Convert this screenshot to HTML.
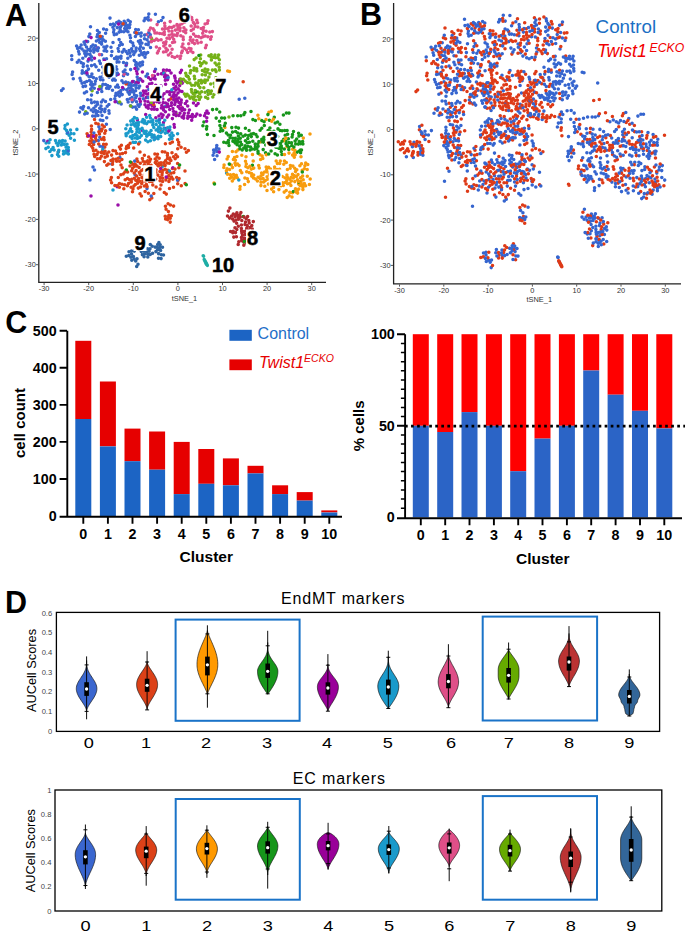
<!DOCTYPE html><html><head><meta charset="utf-8"><style>html,body{margin:0;padding:0;background:#fff;width:685px;height:932px;overflow:hidden}svg{display:block;font-family:"Liberation Sans",sans-serif}</style></head><body><svg width="685" height="932" viewBox="0 0 685 932" font-family="Liberation Sans, sans-serif"><g font-size="7.4" fill="#333"><path d="M38.8 3.0V282.3H326.0" stroke="#222" stroke-width="1.3" fill="none"/><text x="44.1" y="291.3" text-anchor="middle">-30</text><text x="88.7" y="291.3" text-anchor="middle">-20</text><text x="133.3" y="291.3" text-anchor="middle">-10</text><text x="177.9" y="291.3" text-anchor="middle">0</text><text x="222.5" y="291.3" text-anchor="middle">10</text><text x="267.1" y="291.3" text-anchor="middle">20</text><text x="311.7" y="291.3" text-anchor="middle">30</text><text x="35.8" y="267.3" text-anchor="end">-30</text><text x="35.8" y="222.0" text-anchor="end">-20</text><text x="35.8" y="176.7" text-anchor="end">-10</text><text x="35.8" y="131.4" text-anchor="end">0</text><text x="35.8" y="86.1" text-anchor="end">10</text><text x="35.8" y="40.8" text-anchor="end">20</text><path d="M44.1 282.9v2.2M88.7 282.9v2.2M133.3 282.9v2.2M177.9 282.9v2.2M222.5 282.9v2.2M267.1 282.9v2.2M311.7 282.9v2.2M38.2 264.7h-2.2M38.2 219.4h-2.2M38.2 174.1h-2.2M38.2 128.8h-2.2M38.2 83.5h-2.2M38.2 38.2h-2.2" stroke="#444" stroke-width="0.9"/><text x="184.4" y="300.8" text-anchor="middle">tSNE_1</text><text transform="translate(17.8 142.5) rotate(-90)" text-anchor="middle">tSNE_2</text></g><g font-size="7.4" fill="#333"><path d="M393.6 3.0V283.8H681.0" stroke="#222" stroke-width="1.3" fill="none"/><text x="399.5" y="292.8" text-anchor="middle">-30</text><text x="443.8" y="292.8" text-anchor="middle">-20</text><text x="488.1" y="292.8" text-anchor="middle">-10</text><text x="532.4" y="292.8" text-anchor="middle">0</text><text x="576.7" y="292.8" text-anchor="middle">10</text><text x="621.0" y="292.8" text-anchor="middle">20</text><text x="665.3" y="292.8" text-anchor="middle">30</text><text x="390.6" y="268.0" text-anchor="end">-30</text><text x="390.6" y="222.7" text-anchor="end">-20</text><text x="390.6" y="177.4" text-anchor="end">-10</text><text x="390.6" y="132.1" text-anchor="end">0</text><text x="390.6" y="86.8" text-anchor="end">10</text><text x="390.6" y="41.5" text-anchor="end">20</text><path d="M399.5 284.4v2.2M443.8 284.4v2.2M488.1 284.4v2.2M532.4 284.4v2.2M576.7 284.4v2.2M621.0 284.4v2.2M665.3 284.4v2.2M393.0 265.4h-2.2M393.0 220.1h-2.2M393.0 174.8h-2.2M393.0 129.5h-2.2M393.0 84.2h-2.2M393.0 38.9h-2.2" stroke="#444" stroke-width="0.9"/><text x="539.3" y="302.3" text-anchor="middle">tSNE_1</text><text transform="translate(372.6 142.5) rotate(-90)" text-anchor="middle">tSNE_2</text></g><g stroke-linecap="round" stroke-width="3.55" fill="none"><path d="M121.2 103.9h0M117.3 27.6h0M142.7 54.7h0M155.2 138.6h0M107.1 63.6h0M71.7 55.8h0M93.0 44.9h0M114.8 73.8h0M125.3 25.5h0M126.0 51.4h0M134.8 32.5h0M100.0 146.2h0M106.7 117.8h0M103.0 84.3h0M78.6 51.5h0M124.0 49.6h0M99.8 137.3h0M133.9 99.9h0M110.0 18.1h0M135.6 90.7h0M132.6 107.1h0M95.8 106.1h0M115.3 80.2h0M106.7 51.2h0M98.0 115.4h0M177.7 180.1h0M116.1 101.4h0M113.2 75.2h0M111.8 164.0h0M105.1 109.0h0M102.9 79.9h0M108.9 104.4h0M79.0 60.2h0M106.6 29.7h0M121.9 25.1h0M103.3 40.0h0M118.4 102.7h0M148.1 17.3h0M107.6 85.6h0M115.4 95.8h0M119.9 157.6h0M123.5 75.7h0M144.5 38.7h0M161.3 20.5h0M136.0 50.6h0M213.6 150.0h0M137.2 76.9h0M136.7 34.0h0M239.2 99.2h0M124.7 28.4h0M104.7 62.5h0M97.0 36.7h0M137.9 104.7h0M141.2 32.9h0M96.3 78.8h0M150.5 47.5h0M140.1 65.9h0M85.6 86.1h0M105.1 74.6h0M84.8 53.6h0M120.5 26.9h0M167.0 78.4h0M83.1 86.6h0M89.1 76.7h0M129.4 94.2h0M99.9 129.2h0M87.7 41.6h0M91.1 76.5h0M138.4 29.8h0M84.5 72.8h0M86.6 91.7h0M130.3 56.1h0M88.9 36.6h0M91.5 65.6h0M123.5 62.5h0M96.1 66.8h0M140.6 46.5h0M130.6 41.6h0M147.0 188.6h0M87.2 74.8h0M126.1 30.6h0M122.3 52.1h0M80.8 80.8h0M116.6 62.1h0M93.0 167.0h0M145.0 57.2h0M139.6 85.9h0M126.0 65.7h0M144.1 20.8h0M91.3 82.0h0M140.9 95.7h0M123.5 89.1h0M124.2 21.3h0M128.3 82.8h0M139.5 48.8h0M145.1 18.3h0M148.8 14.1h0M108.4 72.1h0M136.5 66.9h0M91.2 110.0h0M99.7 42.4h0M73.3 78.8h0M138.1 64.0h0M98.4 140.5h0M125.5 73.2h0M144.3 52.5h0" stroke="#3a66cf"/><path d="M128.5 183.4h0M131.3 181.9h0M137.1 82.0h0M120.8 174.7h0M169.0 215.2h0M181.1 147.3h0M132.6 168.2h0M143.1 161.2h0M146.4 184.5h0M175.9 154.8h0M153.2 179.4h0M103.8 137.5h0M141.9 177.5h0M165.2 169.2h0M151.8 198.0h0M178.8 144.8h0M152.1 181.6h0M154.9 153.9h0M119.5 91.9h0M156.1 187.0h0M159.1 163.2h0M149.5 181.5h0M140.1 174.5h0M102.1 129.1h0M114.9 185.4h0M158.0 165.6h0M135.2 164.2h0M177.6 163.5h0M101.4 156.2h0M164.9 152.0h0M172.5 168.5h0M172.9 179.1h0M131.7 170.8h0M173.5 187.2h0M172.4 141.9h0M104.8 147.1h0M169.8 158.1h0M127.4 178.4h0M141.4 195.9h0M137.0 166.1h0M168.0 170.2h0M162.2 172.8h0M125.2 179.7h0M152.5 88.5h0M111.4 177.5h0M150.5 159.2h0M171.2 173.3h0M121.4 145.3h0M140.0 193.7h0M163.8 162.7h0M120.5 149.1h0M135.4 184.4h0M101.6 139.2h0M136.9 158.9h0M156.0 169.7h0M102.4 150.9h0M165.2 216.3h0M58.4 151.7h0M122.5 153.4h0M125.5 152.6h0M122.2 167.7h0M108.8 152.0h0M111.6 182.8h0M116.7 161.2h0M95.9 140.8h0M134.2 166.4h0M176.7 177.4h0M87.6 136.3h0M101.4 131.0h0M121.9 159.5h0M140.5 186.9h0M96.0 150.2h0M161.2 131.6h0M156.7 164.4h0M141.7 183.5h0" stroke="#dc4118"/><path d="M273.6 187.4h0M234.5 157.5h0M244.9 178.0h0M290.4 165.5h0M279.7 163.5h0M294.8 181.6h0M278.9 189.6h0M246.0 156.8h0M239.1 165.6h0M292.6 155.1h0M244.6 184.4h0M233.9 178.8h0M224.9 127.5h0M292.7 149.2h0M236.9 156.5h0M292.4 192.7h0M246.7 171.8h0M235.6 165.1h0M287.4 169.4h0M289.8 183.2h0M290.9 185.5h0M297.6 193.1h0M262.8 158.4h0M301.5 163.7h0M292.9 166.1h0M240.4 170.6h0M267.5 179.3h0M267.1 176.8h0M286.2 190.4h0M214.0 183.0h0M289.8 192.2h0M258.7 165.5h0M300.5 177.7h0M260.5 179.0h0M258.1 177.2h0M257.4 180.9h0M286.9 174.9h0M304.4 183.6h0M274.4 169.7h0M263.1 178.6h0M253.2 160.9h0" stroke="#f89c0e"/><path d="M216.7 109.3h0M214.5 184.0h0M250.5 146.9h0M288.8 149.4h0M233.1 115.7h0M293.5 131.4h0M230.1 137.8h0M258.1 146.2h0M203.9 121.9h0M288.3 138.8h0M285.9 141.2h0M297.2 152.1h0M300.0 184.5h0M277.9 146.1h0M235.6 131.4h0M285.2 135.2h0M299.5 150.9h0M247.2 142.7h0M207.4 134.5h0M243.3 216.5h0M299.3 141.4h0M281.3 151.5h0M277.7 136.6h0M287.6 134.3h0M247.3 231.5h0M274.3 117.3h0M243.9 114.6h0M232.9 141.3h0M284.7 130.5h0M275.1 153.7h0M241.7 144.6h0M284.3 149.0h0M245.4 140.8h0M281.9 154.4h0M242.2 150.0h0M255.4 120.5h0M238.1 139.6h0M237.7 115.7h0M235.2 143.0h0M268.1 138.0h0M286.1 143.8h0M275.3 142.8h0M283.7 139.3h0M287.1 130.5h0M219.9 125.4h0M292.5 134.4h0M207.8 91.1h0M264.3 125.5h0M272.7 141.6h0M265.6 152.7h0M249.4 142.3h0M302.6 141.4h0M237.8 142.2h0" stroke="#17961b"/><path d="M184.7 109.8h0M164.6 128.3h0M165.6 103.0h0M130.1 90.9h0M150.6 104.0h0M163.6 109.9h0M126.4 64.3h0M122.5 87.5h0M155.9 92.7h0M176.2 95.5h0M146.4 107.0h0M97.8 48.1h0M163.5 70.0h0M181.7 80.6h0M198.1 103.6h0M182.3 83.1h0M169.7 109.5h0M149.2 93.4h0M161.4 73.8h0M146.2 97.4h0M179.8 79.2h0M171.1 73.0h0M91.1 37.6h0M152.0 105.6h0M171.9 97.0h0M163.9 73.7h0M178.9 81.6h0M94.5 58.2h0M171.7 91.4h0M117.2 186.8h0M180.5 105.3h0M147.3 86.7h0M191.7 120.3h0M155.7 85.2h0M178.9 97.9h0M167.6 79.6h0M181.9 110.4h0M142.4 72.0h0M183.7 115.5h0M142.5 130.4h0M142.7 81.2h0M136.6 71.2h0M173.7 95.0h0M166.8 70.1h0M178.0 93.0h0M155.8 117.7h0M208.3 113.2h0M152.8 88.0h0M150.6 101.7h0M137.2 73.7h0" stroke="#9a0ea8"/><path d="M58.8 156.2h0M130.6 128.8h0M146.7 123.6h0M131.9 131.6h0M63.5 153.9h0M132.8 135.6h0M160.6 125.0h0M132.8 119.6h0M53.1 147.5h0M135.2 126.0h0M71.0 133.6h0M165.4 106.4h0M169.9 135.3h0M166.0 129.9h0M156.1 130.0h0M169.9 127.1h0M159.0 120.0h0M67.2 133.4h0M151.3 134.6h0M66.1 147.2h0M167.4 132.5h0M177.6 133.8h0M162.6 131.3h0M127.9 133.0h0M142.1 128.4h0M57.9 145.5h0M46.1 143.0h0M226.6 173.0h0M68.3 147.5h0M154.1 139.8h0M149.5 132.7h0M67.0 144.3h0M141.9 121.8h0M144.1 122.9h0M135.2 134.4h0M171.2 137.1h0M136.9 129.3h0M158.1 138.8h0M147.9 141.7h0M136.9 131.9h0M155.3 137.4h0M169.5 139.2h0M137.4 138.4h0" stroke="#1a9acb"/><path d="M164.4 34.5h0M168.9 30.9h0M191.0 48.7h0M172.3 37.0h0M150.7 19.9h0M164.6 23.2h0M146.7 34.4h0M167.0 38.2h0M107.4 74.4h0M205.5 47.7h0M180.1 28.1h0M163.8 46.0h0M169.1 35.2h0M205.2 35.9h0M212.4 31.6h0M182.3 50.9h0M166.0 41.7h0M190.5 37.2h0M124.1 74.2h0M181.4 18.9h0M191.6 17.5h0M189.4 15.7h0M151.5 41.2h0M172.1 49.2h0M194.5 43.6h0M172.0 33.9h0M164.6 72.3h0M154.3 40.4h0M172.5 42.5h0M202.9 36.8h0M181.5 107.5h0" stroke="#df4f88"/><path d="M197.8 83.2h0M200.7 97.1h0M207.0 72.3h0M187.1 94.3h0M219.4 80.0h0M85.7 111.7h0M193.1 93.5h0M200.7 55.0h0M194.6 85.2h0M219.2 67.3h0M176.2 113.9h0M199.3 99.5h0M201.1 80.3h0M219.0 63.8h0M205.6 97.2h0M215.8 77.8h0M215.0 55.1h0M210.0 73.7h0M215.5 57.7h0M201.5 82.9h0M210.6 93.5h0M200.6 65.7h0M213.1 57.2h0M202.2 74.7h0M215.2 69.7h0M151.6 38.5h0M195.7 100.3h0M185.2 81.1h0M208.6 90.7h0M190.2 72.9h0" stroke="#74b117"/><path d="M230.6 231.4h0M243.9 231.4h0M229.9 208.1h0M244.0 238.2h0M241.5 240.6h0M236.5 214.7h0M246.5 240.0h0M243.8 245.3h0M239.8 214.8h0M241.4 225.0h0M232.6 219.0h0M253.3 221.6h0M238.2 216.9h0M249.9 233.3h0M243.7 242.0h0M236.8 229.5h0M245.3 234.5h0M235.5 232.6h0M244.1 217.1h0M245.5 221.9h0M241.9 233.1h0" stroke="#b0292e"/><path d="M158.8 248.6h0M155.1 247.1h0M147.8 254.3h0M158.5 253.6h0M157.7 244.5h0M161.1 258.6h0M144.5 254.0h0M141.9 248.4h0M147.5 248.7h0M150.0 248.7h0M159.9 247.4h0M157.2 247.2h0M126.3 256.2h0M161.3 254.7h0M128.8 255.5h0M160.6 250.4h0" stroke="#2e64a0"/><path d="M206.3 263.5h0M203.6 256.3h0M205.2 261.5h0M203.2 255.8h0M205.6 262.2h0" stroke="#1fada5"/><path d="M128.1 102.0h0M90.0 48.9h0M120.9 90.6h0M97.4 30.5h0M148.8 36.8h0M130.6 69.6h0M99.3 32.4h0M119.2 32.1h0M95.4 81.2h0M218.9 148.9h0M81.2 45.0h0M83.2 66.6h0M135.4 36.4h0M84.6 82.6h0M130.1 98.7h0M126.6 63.2h0M97.2 102.2h0M148.8 89.5h0M104.1 50.8h0M116.4 75.1h0M116.7 22.6h0M87.3 65.9h0M143.3 98.8h0M103.0 73.1h0M100.4 79.6h0M165.6 77.5h0M106.6 88.2h0M95.3 116.1h0M116.5 56.9h0M102.0 115.4h0M110.7 75.8h0M140.4 104.2h0M99.6 37.2h0M114.6 25.3h0M100.8 111.9h0M118.4 87.3h0M120.6 22.5h0M102.2 36.8h0M132.1 97.5h0M101.6 44.1h0M103.6 29.0h0M94.9 83.9h0M97.6 104.2h0M114.5 58.4h0M92.9 84.6h0M88.5 107.7h0M125.6 22.9h0M91.3 46.6h0M132.5 51.2h0M101.6 54.7h0M100.3 38.4h0M134.7 161.1h0M95.6 110.6h0M214.6 159.4h0M135.7 29.4h0M112.5 90.3h0M120.7 42.4h0M102.9 120.4h0M76.6 46.0h0M106.4 124.3h0M84.0 50.9h0M77.6 48.4h0M105.5 101.5h0M132.7 43.1h0M140.3 50.7h0M105.5 48.4h0M147.0 39.7h0M89.7 58.3h0M130.4 105.8h0M111.0 47.2h0M140.1 62.8h0M86.6 51.1h0M136.1 62.5h0M71.8 59.5h0M72.1 74.5h0M121.3 31.5h0M87.6 99.7h0M117.5 84.9h0M91.7 60.0h0M100.3 119.9h0M135.1 174.7h0M139.0 106.5h0M121.9 80.7h0M82.3 70.7h0M136.1 87.8h0M104.7 111.6h0M88.2 49.8h0M113.9 29.8h0M135.7 97.7h0M138.0 69.0h0M138.6 33.4h0M79.8 47.6h0M111.4 55.6h0M89.8 34.0h0M114.8 98.8h0M156.0 97.6h0M117.3 59.3h0M105.4 41.3h0M134.3 60.6h0M86.5 47.0h0M123.4 82.8h0M119.5 45.4h0M128.7 84.9h0M131.1 83.3h0M141.0 36.1h0M135.7 64.7h0M106.2 68.3h0M146.0 44.2h0M91.5 95.1h0M127.6 74.2h0M112.9 27.3h0M148.9 42.3h0M150.3 34.7h0M112.6 80.1h0M97.6 34.4h0" stroke="#3a66cf"/><path d="M126.1 84.0h0M178.7 142.2h0M172.0 152.7h0M91.2 137.8h0M153.3 170.3h0M160.0 189.0h0M87.1 133.8h0M170.7 99.0h0M91.4 135.2h0M147.1 186.6h0M128.4 145.2h0M95.8 123.2h0M97.4 158.8h0M185.1 183.6h0M177.6 139.8h0M149.8 199.8h0M94.5 119.5h0M155.7 179.0h0M124.6 184.8h0M131.1 187.2h0M158.4 165.8h0M121.0 164.9h0M177.7 183.7h0M149.6 161.5h0M165.4 143.7h0M98.9 131.8h0M145.0 168.7h0M162.0 175.1h0M129.6 179.7h0M142.8 181.1h0M118.2 158.3h0M143.1 169.4h0M155.9 172.3h0M178.1 180.3h0M165.6 218.9h0M144.3 164.7h0M132.5 191.8h0M115.8 159.3h0M92.3 140.4h0M116.7 153.4h0M144.3 185.9h0M106.2 144.2h0M169.8 159.5h0M89.8 140.9h0M104.8 133.3h0M157.0 157.0h0M185.0 171.0h0M243.2 81.7h0M89.3 144.4h0M91.4 126.0h0M106.8 165.3h0M92.1 142.4h0M173.6 206.1h0M170.4 204.9h0M112.8 161.6h0M94.1 154.3h0M128.5 147.5h0M93.6 144.5h0M168.8 175.6h0M169.3 163.2h0M118.3 177.4h0M96.1 135.5h0M112.5 164.2h0M161.0 184.9h0M127.6 172.0h0M140.3 163.3h0M144.2 175.0h0M186.4 152.3h0M134.4 178.2h0M137.0 180.4h0M91.2 132.1h0M138.6 178.4h0" stroke="#dc4118"/><path d="M294.2 152.8h0M240.1 186.6h0M231.5 177.1h0M237.9 150.0h0M285.7 138.3h0M278.7 177.1h0M269.4 174.4h0M303.3 138.1h0M287.5 183.7h0M266.2 166.9h0M239.9 189.2h0M268.6 167.2h0M294.9 150.3h0M286.9 146.7h0M260.6 159.5h0M234.9 177.0h0M266.7 169.8h0M249.2 172.6h0M232.3 180.9h0M292.5 174.2h0M267.7 144.6h0M276.2 161.0h0M229.6 169.4h0M298.0 174.6h0M298.6 184.1h0M265.3 180.6h0M263.6 181.9h0M294.5 175.7h0M307.3 176.3h0M284.2 192.1h0M290.2 168.2h0M227.5 174.3h0M253.5 178.0h0M246.3 163.9h0M275.1 172.3h0M266.3 154.7h0M245.9 166.5h0M300.9 180.9h0M283.8 164.2h0M305.6 185.8h0M289.7 179.1h0M253.6 175.0h0M291.2 177.2h0M302.6 176.1h0M285.9 137.9h0M277.1 169.6h0M245.5 161.2h0M274.6 167.1h0M264.8 186.3h0M237.3 177.7h0M296.8 169.7h0M231.3 164.9h0M227.1 159.0h0M298.7 188.9h0" stroke="#f89c0e"/><path d="M261.3 141.8h0M301.3 135.3h0M298.3 144.1h0M263.4 142.1h0M280.0 130.4h0M270.2 139.6h0M237.1 144.8h0M277.6 122.0h0M293.9 147.1h0M271.1 150.9h0M300.6 152.7h0M245.4 128.2h0M226.4 133.1h0M274.6 139.9h0M219.5 121.2h0M286.4 113.0h0M263.9 139.6h0M278.0 128.9h0M300.5 143.7h0M268.3 133.6h0M248.0 146.3h0M228.4 142.8h0M298.9 182.2h0M256.8 148.5h0M258.0 151.2h0M126.3 169.9h0M267.4 140.1h0M279.4 148.0h0M263.2 149.6h0M251.3 136.6h0M228.4 140.5h0M250.1 149.9h0M281.3 146.0h0M244.9 112.5h0M257.2 136.8h0M244.4 241.6h0M271.9 133.2h0M269.4 135.9h0M221.7 118.0h0M252.8 141.2h0M187.5 76.2h0" stroke="#17961b"/><path d="M91.0 196.0h0M155.2 79.0h0M167.2 117.1h0M138.3 82.6h0M182.5 107.9h0M169.8 94.4h0M88.7 135.8h0M180.3 72.6h0M178.8 115.5h0M185.3 103.5h0M181.3 100.0h0M148.4 77.6h0M154.3 106.6h0M186.8 101.3h0M171.3 105.4h0M193.5 103.0h0M144.1 92.9h0M200.2 115.3h0M161.1 113.9h0M180.0 113.2h0M140.4 101.4h0M206.6 121.3h0M118.2 74.3h0M47.8 141.2h0M148.6 97.1h0M196.2 105.4h0M134.9 68.5h0M187.7 106.0h0M145.0 101.1h0M192.4 117.2h0M173.9 88.3h0M85.9 41.2h0M146.7 94.0h0M151.7 109.1h0M174.0 97.2h0M148.3 108.2h0M155.4 87.8h0M162.3 95.8h0M162.0 117.4h0M163.5 122.4h0M175.7 80.9h0M172.9 167.7h0M167.6 76.1h0M175.1 78.1h0M157.9 74.3h0M165.6 84.2h0M143.4 91.0h0M182.0 117.1h0M163.3 72.6h0M157.0 99.6h0M150.7 79.5h0M179.7 85.6h0M171.6 102.8h0M143.1 95.2h0M148.4 105.5h0M174.1 124.6h0M115.1 101.8h0" stroke="#9a0ea8"/><path d="M57.5 154.4h0M56.4 143.0h0M61.4 145.0h0M113.0 190.0h0M51.9 155.6h0M165.3 133.1h0M149.7 115.4h0M68.4 150.1h0M54.1 149.9h0M169.8 129.7h0M160.8 128.7h0M48.2 147.3h0M167.6 127.8h0M133.4 121.5h0M156.2 124.4h0M69.1 135.3h0M65.1 141.1h0M152.8 125.0h0M158.7 127.1h0M65.1 125.4h0M70.6 138.3h0M102.8 148.9h0M134.4 117.6h0M131.1 124.8h0M66.3 150.4h0M150.4 118.0h0M130.3 136.7h0M158.0 129.0h0M127.1 125.0h0M172.0 138.4h0M145.6 140.1h0M58.1 152.3h0M58.8 150.2h0M162.6 166.2h0M64.9 128.6h0" stroke="#1a9acb"/><path d="M162.3 33.8h0M99.5 54.6h0M174.6 42.0h0M180.1 58.4h0M109.8 72.2h0M163.6 42.7h0M193.1 40.1h0M197.9 42.9h0M174.7 57.5h0M191.2 25.9h0M194.7 24.0h0M180.7 55.9h0M202.7 33.2h0M158.4 50.9h0M183.9 27.7h0M207.4 23.3h0M188.7 43.7h0M175.4 30.1h0M182.0 23.7h0M201.0 37.7h0M154.2 30.4h0M179.9 16.5h0M180.0 30.7h0M193.4 28.9h0M159.6 48.5h0M192.0 19.8h0M201.2 42.3h0M177.3 56.2h0M157.0 32.9h0M211.3 36.8h0M169.5 27.2h0M150.6 27.9h0M172.0 31.3h0M184.9 22.0h0M166.1 51.6h0M180.4 21.3h0M185.9 29.9h0M195.7 36.2h0M189.1 48.2h0M207.9 36.7h0M169.9 45.8h0" stroke="#df4f88"/><path d="M175.6 99.5h0M197.9 96.4h0M194.0 70.3h0M191.8 92.0h0M217.9 57.6h0M200.0 87.6h0M195.8 83.0h0M183.4 79.2h0M211.4 91.1h0M215.1 63.0h0M202.4 70.5h0M207.5 80.0h0M200.4 58.7h0M205.1 82.5h0M186.3 75.7h0M188.8 96.0h0M211.0 57.1h0M92.1 90.7h0M212.4 70.1h0M208.1 94.6h0M199.6 62.5h0M204.7 71.8h0M180.8 79.1h0M211.2 54.7h0M180.7 83.0h0M190.7 70.4h0" stroke="#74b117"/><path d="M241.6 231.0h0M246.8 243.5h0M238.2 244.4h0M236.9 212.7h0M246.7 228.3h0M234.0 221.1h0M251.8 225.5h0M241.8 220.5h0M249.3 242.7h0M242.5 235.3h0M252.2 240.3h0M236.4 236.8h0M248.7 238.2h0M238.5 219.2h0M235.0 216.8h0" stroke="#b0292e"/><path d="M142.4 254.8h0M131.5 251.1h0M152.6 253.3h0M160.2 244.8h0M157.6 249.8h0M129.0 251.8h0M133.4 256.6h0M147.8 256.9h0M149.1 251.2h0M150.3 244.5h0M141.3 251.6h0M150.2 254.4h0M163.5 254.9h0" stroke="#2e64a0"/><path d="M207.0 264.8h0M207.3 265.5h0" stroke="#1fada5"/><path d="M93.6 49.5h0M133.7 54.6h0M77.3 62.2h0M86.5 71.3h0M93.9 133.1h0M110.1 86.6h0M118.7 51.2h0M99.4 61.1h0M82.1 73.3h0M103.9 47.0h0M129.1 50.4h0M84.1 42.1h0M96.3 113.2h0M127.5 53.6h0M95.7 49.7h0M145.7 54.3h0M120.7 93.2h0M85.7 56.0h0M136.5 101.7h0M130.5 37.7h0M106.9 46.2h0M92.1 87.0h0M94.1 142.0h0M67.6 132.4h0M123.3 71.7h0M111.9 51.4h0M120.1 29.5h0M125.8 82.1h0M142.6 62.1h0M119.6 96.1h0M131.2 85.7h0M143.3 48.3h0M216.6 147.8h0M79.5 112.1h0M217.1 151.6h0M92.7 116.0h0M118.9 21.2h0M216.8 145.6h0M155.5 69.2h0M146.0 76.2h0M177.5 180.0h0M90.7 84.5h0M132.2 101.8h0M137.9 79.4h0M134.9 52.3h0M135.3 106.9h0M107.2 106.2h0M116.7 34.1h0M132.6 89.8h0M113.9 77.9h0M151.2 195.9h0M145.8 18.8h0M110.1 68.4h0M103.0 100.0h0M98.9 126.8h0M91.7 102.7h0M113.4 69.2h0M94.6 102.1h0M68.1 151.6h0M122.2 94.6h0M116.1 66.8h0M102.7 67.0h0M94.3 88.2h0M119.0 61.9h0M95.5 45.8h0M129.9 24.5h0M90.1 54.5h0M116.8 69.3h0M110.7 99.4h0M84.4 93.0h0M118.1 48.6h0M87.2 113.2h0M133.9 85.3h0M84.7 114.0h0M101.8 91.5h0M88.5 69.1h0M110.5 24.4h0M127.2 28.2h0M88.0 61.1h0M102.6 146.5h0M152.9 136.8h0M90.5 51.1h0M130.8 92.0h0M113.0 42.5h0M93.8 108.2h0M98.7 70.3h0M118.6 57.2h0M90.5 26.8h0M82.8 58.3h0M82.8 109.1h0M82.0 49.0h0M80.0 78.3h0M87.4 54.0h0M129.9 35.2h0M129.9 52.9h0M127.8 58.3h0M144.6 35.1h0M79.2 54.0h0M136.6 109.2h0M116.0 93.3h0" stroke="#3a66cf"/><path d="M168.1 203.7h0M100.0 158.6h0M108.4 164.0h0M169.8 179.0h0M171.3 215.8h0M157.5 154.3h0M185.0 148.7h0M167.9 217.0h0M170.9 160.4h0M130.0 166.0h0M178.8 167.8h0M151.1 165.3h0M144.5 177.8h0M173.6 156.8h0M105.1 157.2h0M105.1 151.3h0M163.0 170.2h0M113.0 150.6h0M140.0 151.9h0M160.1 180.7h0M179.1 178.5h0M93.5 150.8h0M101.3 152.6h0M149.4 167.5h0M150.3 96.7h0M97.0 154.4h0M133.0 188.9h0M159.9 171.5h0M154.2 175.4h0M169.4 172.0h0M148.2 163.4h0M103.8 153.6h0M104.1 139.8h0M171.5 176.9h0M126.7 146.5h0M170.2 143.2h0M92.8 148.2h0M148.4 193.2h0M98.2 123.9h0M165.9 180.0h0M168.4 211.5h0M165.1 165.4h0M103.6 144.2h0M164.7 165.1h0M156.8 161.1h0M105.6 130.8h0M148.7 157.0h0M155.3 162.6h0M137.7 161.4h0M123.8 188.7h0M132.9 164.3h0M157.9 175.1h0M94.7 156.4h0M91.9 135.6h0M170.2 222.1h0M175.0 169.1h0M162.7 178.2h0M131.6 162.7h0M155.2 159.0h0M173.8 172.6h0M153.7 104.5h0M144.4 155.2h0M107.4 155.9h0M146.8 170.5h0M167.0 177.5h0M169.5 188.4h0M119.4 187.2h0M153.8 193.4h0M146.3 166.2h0M142.4 158.5h0M139.7 181.2h0M181.3 185.7h0M167.4 158.4h0M160.1 177.6h0M110.9 160.5h0M131.9 179.3h0M130.2 143.3h0M133.9 186.1h0" stroke="#dc4118"/><path d="M227.7 71.0h0M298.5 181.5h0M287.2 197.4h0M241.8 172.8h0M237.5 163.9h0M303.2 179.7h0M259.9 154.7h0M251.7 176.1h0M233.5 174.5h0M307.8 164.4h0M223.8 167.5h0M268.9 112.2h0M301.0 156.7h0M273.4 119.2h0M261.0 182.2h0M299.9 165.8h0M289.2 195.7h0M295.2 154.8h0M280.3 161.0h0M267.1 172.0h0M273.7 174.6h0M271.6 189.1h0M260.9 185.6h0M247.9 167.7h0M241.8 155.2h0M302.7 185.1h0M294.3 157.3h0M236.3 175.3h0M307.2 169.4h0M310.0 134.0h0M229.7 178.2h0M285.2 182.5h0M293.3 178.0h0M266.0 119.4h0M235.0 163.2h0M271.7 175.7h0M236.0 151.7h0M296.4 176.6h0M282.3 176.4h0M228.2 156.6h0M283.3 185.4h0M277.4 163.5h0M259.6 142.1h0M224.1 164.9h0M287.5 177.4h0" stroke="#f89c0e"/><path d="M288.9 142.6h0M239.9 148.7h0M251.0 111.5h0M245.4 135.1h0M299.0 136.1h0M206.5 129.1h0M245.2 145.7h0M202.9 125.7h0M212.6 109.6h0M232.8 138.2h0M224.6 118.1h0M255.9 134.4h0M300.5 150.1h0M252.9 119.6h0M301.5 150.1h0M270.4 131.8h0M277.4 154.9h0M249.1 130.4h0M267.9 114.6h0M229.0 145.4h0M291.5 142.7h0M246.2 148.1h0M291.8 145.5h0M252.4 165.2h0M264.1 121.8h0M288.9 147.3h0M258.9 141.6h0M130.4 161.9h0M257.8 144.0h0M179.6 164.9h0M292.1 136.9h0M283.4 114.9h0M265.7 145.0h0M214.0 135.4h0M240.7 133.8h0M243.1 136.3h0M223.8 142.2h0M269.4 120.2h0M222.7 130.6h0M238.3 136.3h0M261.8 128.3h0M236.0 127.2h0M219.7 111.9h0M277.8 143.3h0M240.8 115.7h0M224.4 125.7h0M268.7 154.0h0M261.8 120.5h0M243.8 148.0h0M269.0 144.6h0M275.2 123.0h0M293.4 191.5h0" stroke="#17961b"/><path d="M163.1 115.1h0M157.1 109.5h0M164.6 76.8h0M176.5 98.7h0M181.1 102.6h0M192.4 114.6h0M162.9 99.0h0M169.6 91.8h0M86.9 72.9h0M153.4 102.2h0M135.7 82.8h0M155.5 95.2h0M165.3 80.2h0M206.9 110.9h0M158.9 115.9h0M187.9 116.1h0M172.9 108.6h0M118.6 24.1h0M161.0 86.0h0M175.9 86.6h0M195.4 116.2h0M154.1 109.2h0M149.4 83.9h0M139.6 98.9h0M204.5 115.7h0M154.1 92.3h0M140.0 78.7h0M145.7 114.6h0M173.8 114.4h0M156.7 101.6h0M205.6 113.2h0M174.0 92.7h0M174.4 127.2h0M151.9 83.3h0M161.4 107.9h0M181.5 70.3h0M167.0 91.8h0M154.6 71.4h0M137.4 120.0h0M166.2 177.1h0M140.8 79.5h0M168.7 100.1h0M153.6 92.3h0M88.7 59.2h0M179.8 108.6h0M178.1 106.6h0M163.1 102.6h0M168.8 130.9h0M154.7 94.9h0M173.4 111.3h0M175.9 89.9h0M183.7 118.1h0M174.6 76.1h0M164.1 93.8h0M168.5 106.4h0" stroke="#9a0ea8"/><path d="M133.6 124.3h0M70.5 130.1h0M150.6 121.8h0M146.7 136.2h0M152.8 119.9h0M137.6 126.9h0M139.7 142.2h0M154.1 135.2h0M171.8 132.9h0M148.4 121.7h0M135.3 125.7h0M126.2 135.7h0M150.4 140.7h0M148.7 134.6h0M146.6 117.3h0M238.8 180.0h0M158.1 136.5h0M136.5 123.0h0M151.5 134.7h0M143.0 119.4h0M125.8 128.7h0M143.6 130.9h0M141.4 135.6h0M171.8 89.8h0M66.6 130.6h0M156.6 120.9h0M73.9 133.8h0M129.5 130.9h0M59.5 141.1h0M51.6 149.6h0M160.7 136.6h0M169.4 170.9h0M136.9 118.5h0M139.5 132.4h0M133.1 142.3h0M135.0 137.9h0M163.2 125.0h0M158.5 131.6h0M139.6 137.5h0M50.1 139.7h0M153.0 122.8h0M173.2 135.4h0M135.7 142.2h0M76.9 129.4h0M163.9 73.2h0M153.8 127.5h0M68.4 154.0h0" stroke="#1a9acb"/><path d="M185.7 32.7h0M172.2 56.5h0M196.8 40.4h0M192.9 52.4h0M132.1 99.7h0M193.5 34.1h0M183.1 37.0h0M210.6 39.3h0M170.2 21.6h0M177.5 33.2h0M192.3 42.2h0M150.8 37.3h0M196.8 20.3h0M206.1 31.2h0M181.6 52.8h0M162.5 29.0h0M190.2 40.1h0M177.0 24.4h0M205.1 24.0h0M174.0 26.2h0M157.4 52.9h0M165.6 44.1h0M183.3 39.6h0M159.7 33.5h0M186.5 50.0h0M154.9 32.9h0M165.9 48.2h0M195.2 26.4h0M208.0 20.7h0M197.6 22.7h0M209.8 31.9h0M184.2 48.2h0M171.8 27.6h0M198.5 36.6h0M203.4 30.6h0M153.1 28.7h0M173.7 39.2h0" stroke="#df4f88"/><path d="M205.4 75.0h0M204.1 61.8h0M204.9 80.1h0M196.8 71.0h0M207.8 98.5h0M194.2 59.6h0M189.3 79.2h0M219.4 69.9h0M220.8 87.1h0M151.3 102.5h0M195.2 93.2h0M189.5 66.0h0M194.7 78.8h0M190.1 98.3h0M205.1 69.0h0M208.9 77.1h0M198.1 92.1h0M217.9 89.9h0M194.5 96.4h0M208.9 55.8h0M207.9 69.8h0M184.4 94.1h0M229.0 117.0h0M210.7 84.0h0M201.6 91.8h0M217.6 81.7h0M198.4 85.6h0M196.6 68.8h0M218.4 92.5h0M191.4 89.4h0" stroke="#74b117"/><path d="M228.4 211.1h0M233.3 214.1h0M235.0 227.7h0M244.7 238.2h0M249.2 222.9h0M238.3 226.2h0M245.9 230.9h0M247.6 216.5h0M238.1 215.6h0M233.2 231.3h0M238.8 241.8h0M232.8 232.8h0M241.4 228.4h0M248.3 230.3h0M245.0 224.4h0M246.2 218.7h0M240.9 212.5h0" stroke="#b0292e"/><path d="M152.2 246.2h0M131.8 260.2h0M137.0 258.8h0M155.9 251.6h0M136.7 266.4h0" stroke="#2e64a0"/><path d="M205.9 262.8h0M204.5 260.2h0M204.9 260.8h0M204.2 259.5h0" stroke="#1fada5"/><path d="M101.4 102.0h0M127.3 99.5h0M106.5 58.8h0M98.8 39.8h0M131.6 48.7h0M147.7 52.5h0M108.8 88.5h0M104.2 70.0h0M140.5 93.3h0M217.0 155.8h0M148.8 32.6h0M128.1 20.3h0M91.9 74.1h0M126.7 89.8h0M141.9 43.1h0M97.4 92.4h0M133.6 92.2h0M110.2 129.5h0M82.1 83.3h0M91.6 56.7h0M109.1 113.3h0M98.4 48.1h0M105.5 84.4h0M100.4 63.5h0M97.8 111.4h0M115.7 87.0h0M133.7 81.5h0M109.1 77.1h0M136.2 48.0h0M93.3 111.8h0M127.5 25.5h0M99.7 108.3h0M148.2 97.6h0M90.0 180.0h0M130.3 21.8h0M118.7 92.2h0M86.7 81.5h0M140.4 40.4h0M139.3 55.2h0M94.2 48.1h0M136.2 84.9h0M129.5 27.6h0M83.4 63.8h0M139.9 43.5h0M72.6 72.0h0M94.6 64.7h0M123.8 31.8h0M125.0 69.9h0M89.5 80.6h0M141.7 53.0h0M119.1 39.6h0M215.7 149.7h0M131.0 88.0h0M80.9 107.7h0M113.6 32.3h0M159.6 119.5h0M90.7 89.1h0M61.5 90.4h0M83.6 106.6h0M138.4 41.3h0M90.9 100.0h0M122.3 44.5h0M214.0 152.5h0M81.1 62.6h0M155.4 14.3h0M148.5 20.0h0M139.3 80.1h0M121.0 56.3h0M97.7 50.8h0M117.4 94.7h0M158.4 21.8h0M128.0 92.1h0M84.9 44.5h0M244.8 98.2h0M142.4 64.7h0M102.5 76.8h0M128.0 31.8h0M136.7 95.7h0M133.4 45.7h0M163.0 17.6h0M147.5 74.1h0M102.8 39.7h0M100.0 77.3h0M134.5 95.0h0M120.9 58.3h0M101.1 88.8h0M148.2 44.8h0M93.4 77.6h0M101.7 86.2h0M105.6 33.2h0M213.1 155.3h0M117.3 73.1h0M96.4 40.9h0M101.6 42.0h0M128.8 87.9h0M43.8 140.6h0M105.8 72.0h0M94.5 170.0h0M114.3 34.8h0M138.7 87.9h0M114.2 71.7h0M63.1 88.8h0M168.2 77.4h0M108.9 110.7h0M102.0 109.6h0M113.3 23.9h0M93.8 52.1h0M103.9 58.9h0M101.0 106.1h0" stroke="#3a66cf"/><path d="M148.7 170.6h0M145.5 162.0h0M102.2 125.0h0M111.6 155.1h0M166.3 194.1h0M125.0 171.9h0M123.2 173.9h0M138.3 188.1h0M104.3 126.8h0M136.6 175.9h0M139.3 172.6h0M175.2 158.8h0M100.3 36.2h0M104.4 161.6h0M145.1 191.5h0M139.1 167.4h0M166.9 172.4h0M133.7 147.9h0M122.0 184.2h0M137.7 183.1h0M147.7 160.8h0M106.8 153.7h0M149.5 173.1h0M161.2 164.9h0M162.3 151.7h0M146.2 174.9h0M147.6 177.7h0M91.6 146.2h0M165.5 160.8h0M168.9 181.5h0M151.4 171.2h0M148.8 176.0h0M113.0 159.0h0M112.8 169.8h0M167.4 155.6h0M167.1 162.9h0M91.6 129.4h0M151.6 100.0h0M152.8 184.9h0M110.6 179.9h0M161.0 162.7h0M138.6 143.9h0M165.4 206.2h0M134.2 172.9h0M99.5 134.0h0M177.5 156.8h0M126.2 148.6h0M98.7 143.9h0M141.2 170.7h0M135.8 180.3h0M117.4 185.4h0M95.6 138.3h0M170.2 218.3h0M123.1 23.7h0M167.5 153.5h0M120.0 154.1h0M127.4 185.8h0M159.2 158.3h0M177.7 148.7h0M115.5 150.9h0M98.1 152.3h0M167.6 219.6h0M166.1 209.2h0M145.1 180.9h0M136.3 32.7h0M162.6 181.5h0M136.1 170.6h0M119.6 161.2h0M188.4 150.6h0M164.3 192.4h0M119.5 147.0h0M119.4 183.5h0" stroke="#dc4118"/><path d="M251.3 169.1h0M291.4 181.0h0M279.2 179.6h0M260.9 176.1h0M284.4 161.0h0M261.6 172.9h0M286.8 180.4h0M271.7 121.2h0M230.4 174.8h0M292.0 197.0h0M267.0 190.4h0M235.4 160.3h0M304.9 165.8h0M232.4 151.5h0M248.3 181.6h0M284.9 177.8h0M264.6 171.9h0M302.9 189.6h0M259.3 168.0h0M251.5 173.4h0M300.1 185.6h0M294.7 168.3h0M295.9 192.0h0M229.5 71.5h0M284.5 154.5h0M302.9 187.3h0M289.0 153.1h0M282.5 182.8h0M247.4 178.7h0M283.7 140.8h0M302.2 170.3h0M304.4 168.8h0M271.0 183.3h0M286.3 162.4h0M226.4 170.7h0M278.7 184.7h0M273.6 191.7h0M295.5 188.7h0M252.5 154.5h0M258.8 118.7h0M271.3 111.3h0M268.4 184.1h0M232.5 167.6h0M278.6 172.1h0M301.1 183.0h0M227.1 168.7h0M257.9 115.2h0M262.1 156.1h0M249.9 166.2h0M295.5 171.6h0M309.4 184.5h0M281.1 185.8h0M233.4 159.4h0M275.5 177.0h0M279.6 169.2h0M255.6 179.0h0M305.7 162.9h0M270.5 169.0h0M297.4 190.5h0M253.7 168.1h0M310.2 178.9h0M297.5 179.7h0M262.9 174.5h0" stroke="#f89c0e"/><path d="M235.4 140.8h0M261.8 139.2h0M280.5 143.5h0M295.1 141.0h0M229.3 164.1h0M228.2 134.9h0M237.7 132.9h0M263.9 137.2h0M302.3 171.9h0M232.5 132.1h0M225.3 123.3h0M195.8 91.3h0M230.5 135.2h0M289.0 113.1h0M221.0 128.3h0M296.7 139.0h0M282.1 130.7h0M252.1 149.0h0M271.3 145.2h0M287.3 145.6h0M216.2 118.1h0M273.9 131.2h0M240.3 138.3h0M198.9 55.4h0M248.4 135.5h0M236.7 142.2h0M226.4 142.8h0M258.1 153.3h0M275.9 147.2h0M246.5 150.3h0M281.5 148.2h0M278.9 148.2h0M206.8 126.5h0M298.6 133.2h0M239.6 146.1h0M282.0 141.2h0M254.7 149.1h0M235.3 138.3h0M240.5 142.1h0M279.9 124.3h0M302.9 144.0h0M253.5 133.6h0M269.9 128.0h0M295.7 144.0h0M220.2 131.3h0M247.8 138.6h0M260.1 130.2h0M255.2 144.1h0M231.8 127.6h0M251.1 134.0h0M238.5 128.1h0M255.4 146.7h0M268.1 130.5h0M186.3 184.8h0" stroke="#17961b"/><path d="M184.3 113.3h0M180.0 90.9h0M173.7 99.8h0M158.7 97.3h0M168.7 115.0h0M182.0 91.5h0M175.3 102.2h0M153.7 78.5h0M169.4 70.5h0M159.2 102.5h0M160.3 99.4h0M189.4 109.9h0M190.2 116.5h0M148.0 101.7h0M93.5 136.3h0M165.3 74.9h0M166.7 106.7h0M153.0 77.7h0M132.5 81.6h0M177.0 83.1h0M187.7 118.2h0M165.4 111.8h0M145.0 104.8h0M146.0 91.0h0M153.2 97.0h0M163.5 107.5h0M174.7 104.4h0M104.3 60.7h0M167.6 104.0h0M177.3 100.5h0M151.7 93.1h0M172.4 118.6h0M160.7 168.5h0M219.3 152.1h0M188.3 113.0h0M173.5 84.2h0M161.8 105.4h0M178.2 88.8h0M178.9 102.6h0M98.7 89.2h0M118.0 205.0h0M175.9 112.2h0M206.8 117.8h0M154.4 76.0h0M176.1 115.6h0M196.9 114.1h0" stroke="#9a0ea8"/><path d="M64.4 144.5h0M74.4 140.3h0M67.4 124.0h0M139.5 129.4h0M164.8 120.2h0M138.6 122.5h0M45.9 148.6h0M62.1 142.5h0M62.6 140.4h0M146.2 131.2h0M48.9 142.8h0M126.0 133.7h0M137.1 135.7h0M159.3 122.6h0M58.8 143.1h0M55.5 140.6h0M66.0 152.9h0M151.1 130.4h0M158.5 136.2h0M160.9 132.7h0M146.8 134.0h0M49.9 151.5h0M130.7 121.1h0M63.5 151.3h0M152.0 137.3h0M132.1 138.6h0M164.0 128.6h0M144.7 120.8h0M138.3 124.9h0M144.3 133.3h0" stroke="#1a9acb"/><path d="M177.0 35.6h0M177.9 26.8h0M168.4 54.9h0M191.2 30.4h0M167.8 28.5h0M149.2 30.2h0M187.7 52.4h0M182.9 44.0h0M151.3 41.8h0M197.8 26.9h0M179.8 25.0h0M170.8 52.9h0M203.5 27.4h0M163.5 52.0h0M174.5 35.0h0M164.9 26.1h0M206.3 45.2h0M167.5 50.0h0M164.3 31.9h0M156.4 46.9h0M183.6 31.2h0M201.2 28.5h0M193.4 22.4h0M169.6 38.6h0M161.1 39.7h0M152.5 75.6h0M158.2 40.3h0M185.0 17.7h0M177.8 29.3h0M190.8 51.0h0M156.5 39.1h0M165.0 28.8h0M182.0 46.8h0M157.1 24.6h0M180.8 35.7h0" stroke="#df4f88"/><path d="M222.2 84.9h0M199.7 93.8h0M192.0 96.9h0M212.8 96.9h0M203.8 87.7h0M185.7 96.3h0M99.8 86.4h0M198.9 80.8h0M206.1 62.9h0M188.3 76.9h0M218.5 84.2h0M195.2 90.6h0M198.1 84.2h0M194.1 68.0h0M185.7 73.2h0M205.1 92.3h0M189.9 83.0h0M191.8 85.2h0M211.4 60.0h0M219.4 59.7h0M213.9 94.6h0M130.7 105.9h0M216.1 71.6h0M218.6 55.0h0M194.3 76.2h0M119.7 101.9h0M202.8 81.4h0M214.7 86.8h0M216.7 65.0h0M193.4 99.1h0M196.1 57.9h0M187.3 82.6h0M214.1 83.3h0M202.1 63.5h0" stroke="#74b117"/><path d="M241.4 237.5h0M247.6 233.3h0M248.8 220.4h0M235.8 214.8h0M227.5 215.9h0M247.2 225.6h0M236.6 223.2h0M240.3 217.1h0M236.0 219.9h0M231.6 215.9h0M233.8 237.1h0M250.0 227.4h0M229.6 218.1h0M252.3 228.9h0" stroke="#b0292e"/><path d="M146.8 251.9h0M130.9 257.3h0M144.1 256.8h0M158.9 242.6h0M131.5 253.9h0M158.5 258.3h0M138.0 264.2h0M135.7 261.0h0M134.1 259.0h0M134.3 251.1h0M144.0 251.3h0M162.5 247.2h0" stroke="#2e64a0"/><path d="M206.6 264.2h0" stroke="#1fada5"/></g><g stroke-linecap="round" stroke-width="3.55" fill="none"><path d="M518.9 35.7h0M589.0 158.7h0M475.7 105.1h0M483.0 184.6h0M509.6 248.3h0M505.2 21.1h0M413.3 157.4h0M520.1 104.2h0M552.3 84.4h0M587.6 116.9h0M502.3 255.5h0M518.1 111.1h0M509.7 139.8h0M561.5 73.5h0M598.4 232.6h0M426.2 57.0h0M648.0 132.6h0M584.6 139.0h0M573.9 81.2h0M501.2 35.6h0M447.5 46.1h0M644.9 166.7h0M479.8 26.7h0M507.7 180.6h0M642.8 140.0h0M640.4 142.4h0M598.5 239.4h0M506.3 199.2h0M560.0 48.9h0M509.4 155.1h0M433.1 52.7h0M632.4 147.3h0M478.5 50.8h0M593.6 166.8h0M515.1 126.2h0M591.0 215.9h0M487.3 120.8h0M494.6 175.7h0M536.8 52.1h0M452.5 116.6h0M553.8 100.7h0M466.3 165.2h0M425.5 134.8h0M545.0 38.4h0M519.9 107.6h0M478.6 75.4h0M455.9 157.4h0M557.7 257.0h0M570.3 79.0h0M594.3 216.0h0M478.0 76.9h0M486.2 172.0h0M599.1 185.6h0M491.2 35.2h0M595.9 226.2h0M588.4 180.0h0M459.2 63.7h0M510.6 131.2h0M579.4 128.7h0M450.8 80.0h0M564.5 74.9h0M546.1 18.7h0M440.1 87.3h0M479.7 180.9h0M514.4 248.6h0M587.1 220.2h0M635.8 152.7h0M521.9 133.7h0M632.2 137.8h0M437.6 87.8h0M442.2 42.8h0M644.3 184.4h0M592.7 218.1h0M645.4 186.7h0M525.7 174.5h0M445.6 77.7h0M496.6 129.6h0M439.0 74.0h0M598.4 115.8h0M535.0 106.5h0M604.4 234.5h0M555.1 66.9h0M515.8 255.9h0M569.7 70.9h0M550.2 101.5h0M478.0 63.7h0M508.6 141.0h0M596.2 145.8h0M491.4 160.1h0M510.5 170.9h0M591.3 230.7h0M476.8 53.3h0M496.4 123.0h0M499.5 58.4h0M609.9 121.7h0M480.5 66.9h0M592.6 140.8h0M599.8 235.7h0M590.0 233.8h0M498.6 22.0h0M589.7 144.2h0M611.9 182.1h0M598.6 218.3h0M478.0 90.3h0M563.1 91.9h0M574.4 126.6h0M494.0 50.0h0M607.7 162.1h0M471.2 162.4h0M508.8 41.6h0M527.0 43.7h0M491.0 68.1h0M603.9 143.5h0M515.1 251.6h0M492.6 65.2h0M509.8 138.6h0M544.7 74.1h0M450.5 151.4h0M480.0 74.4h0M498.8 53.7h0M496.2 184.7h0" stroke="#3565cf"/><path d="M628.1 188.6h0M513.3 249.8h0M519.1 129.5h0M485.1 130.0h0M560.8 264.7h0M497.2 55.9h0M523.5 216.4h0M535.6 148.5h0M513.0 254.8h0M510.4 93.9h0M500.9 185.7h0M418.0 155.1h0M458.3 138.7h0M496.4 178.7h0M487.3 136.8h0M521.5 39.4h0M654.5 185.7h0M461.2 119.0h0M534.6 29.3h0M530.7 96.7h0M457.5 85.5h0M549.1 86.4h0M488.4 101.1h0M559.7 37.1h0M510.6 188.2h0M490.1 91.9h0M487.1 108.3h0M504.0 182.7h0M407.6 148.7h0M590.1 132.6h0M520.5 42.9h0M639.7 136.4h0M532.2 181.3h0M552.6 104.8h0M489.7 127.2h0M469.4 186.6h0M524.2 110.7h0M459.6 110.2h0M463.4 105.6h0M461.1 30.9h0M560.1 98.4h0M503.7 94.6h0M502.6 18.5h0M489.7 165.4h0M519.4 153.2h0M515.9 75.0h0M520.5 131.1h0M593.7 100.4h0M597.8 217.7h0M524.3 159.3h0M481.9 179.6h0M500.7 98.6h0M491.5 167.3h0M513.5 121.2h0M647.2 150.4h0M525.6 74.2h0M445.6 38.8h0M505.8 135.8h0M439.3 54.8h0M475.0 28.1h0M646.9 193.9h0M607.8 222.8h0M526.4 98.2h0M506.0 42.4h0M443.6 77.9h0M518.4 74.9h0M454.4 130.4h0M449.0 59.4h0M601.8 232.7h0M492.9 31.0h0M441.1 92.9h0M546.2 121.5h0M400.6 144.2h0M581.1 174.2h0M443.4 37.8h0M494.5 194.9h0M506.1 39.7h0M446.0 66.8h0M622.0 180.5h0M475.0 150.3h0M489.9 185.6h0M450.6 68.0h0M495.1 47.7h0M599.9 142.0h0M526.5 35.1h0M621.6 178.0h0M441.7 76.0h0M421.5 145.5h0M519.1 73.5h0M636.4 155.6h0M447.5 168.2h0M498.6 124.1h0M477.0 154.6h0M497.0 131.6h0M497.2 82.4h0M525.7 138.3h0M491.4 130.5h0M612.6 178.4h0M528.2 96.2h0M521.3 71.3h0M510.3 118.9h0M507.3 89.2h0M466.1 184.0h0M641.6 131.7h0M628.9 170.9h0M482.8 84.0h0M618.8 126.7h0M512.6 140.0h0M505.1 102.9h0M445.7 111.2h0M557.4 38.0h0M531.2 178.6h0M442.1 137.5h0M476.4 160.7h0M491.9 139.6h0" stroke="#de3a17"/><path d="M480.6 85.2h0M412.0 155.6h0M410.9 144.2h0M475.4 91.8h0M503.3 38.0h0M492.8 83.8h0M453.8 33.6h0M529.1 43.2h0M640.2 139.5h0M449.9 82.4h0M537.0 109.1h0M524.3 95.6h0M443.2 137.0h0M534.8 73.8h0M623.9 175.6h0M534.6 59.6h0M592.7 245.6h0M561.5 266.0h0M533.3 116.7h0M441.6 135.0h0M471.2 23.8h0M642.0 184.9h0M601.2 229.5h0M591.6 146.0h0M504.2 116.6h0M501.6 187.8h0M552.4 44.1h0M451.9 160.0h0M502.9 78.8h0M471.0 58.1h0M641.4 147.9h0M625.6 152.1h0M525.8 106.6h0M515.3 129.9h0M494.9 105.4h0M402.7 148.5h0M494.9 102.6h0M550.3 84.2h0M512.9 167.0h0M561.9 24.5h0M543.2 44.9h0M596.3 221.7h0M522.1 129.0h0M537.9 80.4h0M486.6 98.7h0M453.4 133.0h0M423.6 136.5h0M456.1 45.3h0M603.8 243.9h0M503.1 98.3h0M584.1 170.6h0M507.3 126.2h0M503.6 252.4h0M618.1 183.1h0M618.4 140.8h0M550.7 106.6h0M454.8 39.6h0M542.2 107.2h0M499.5 102.3h0M546.9 118.4h0M608.0 179.2h0M510.4 173.5h0M440.4 42.4h0M655.0 144.9h0M597.0 236.5h0M508.7 31.6h0M501.2 95.2h0M506.2 110.3h0M534.4 17.7h0M534.5 31.9h0M460.0 49.6h0M528.5 98.4h0M620.8 155.9h0M509.9 89.0h0M540.8 76.9h0M460.7 145.4h0M426.3 60.7h0M516.8 97.0h0M446.2 61.2h0M518.0 123.6h0M436.8 71.9h0M467.3 162.8h0M483.0 148.7h0M522.1 77.3h0M565.8 38.0h0M539.4 23.2h0M523.8 164.4h0M441.0 48.2h0M497.9 92.2h0M485.6 84.5h0M472.8 178.6h0M605.8 137.8h0M582.9 141.7h0M635.8 147.2h0M599.4 113.7h0M517.8 73.8h0M565.7 55.9h0M651.3 170.9h0M412.6 153.5h0M505.2 80.7h0M550.2 37.4h0M503.4 43.5h0M535.2 84.2h0M623.9 137.1h0M419.4 129.8h0M576.2 119.2h0M502.9 106.7h0" stroke="#de3a17"/><path d="M482.6 103.2h0M594.6 187.8h0M486.0 252.3h0M454.0 55.8h0M592.4 151.2h0M615.8 143.0h0M437.7 67.8h0M489.9 37.6h0M439.1 83.8h0M552.4 97.6h0M464.3 73.4h0M518.1 43.9h0M503.3 90.7h0M458.6 52.0h0M591.4 213.9h0M406.4 156.8h0M445.9 136.4h0M482.9 146.4h0M512.1 251.0h0M620.7 168.1h0M483.5 253.0h0M594.4 190.4h0M545.7 27.1h0M549.2 25.2h0M454.9 80.8h0M546.3 93.2h0M532.1 141.0h0M504.3 201.0h0M449.8 117.3h0M510.2 180.2h0M572.4 58.8h0M557.2 34.4h0M554.5 88.8h0M465.2 77.0h0M589.4 178.2h0M534.5 114.4h0M454.1 38.4h0M621.2 171.0h0M603.7 173.8h0M475.5 166.1h0M586.8 182.1h0M561.1 122.5h0M565.9 92.3h0M456.7 38.0h0M472.7 75.5h0M630.7 162.2h0M569.6 64.2h0M640.9 114.2h0M649.0 176.9h0M443.0 108.9h0M445.8 47.8h0M499.5 169.9h0M661.8 177.5h0M419.6 126.6h0M487.0 52.4h0M644.7 169.4h0M425.1 139.5h0M497.3 182.3h0M582.0 175.5h0M475.2 43.6h0M497.6 170.6h0M600.8 165.1h0M485.6 126.0h0M562.0 81.2h0M460.9 125.5h0M536.5 24.9h0M622.8 134.8h0M446.8 141.6h0M606.7 241.5h0M444.2 59.5h0M495.8 252.8h0M494.6 64.0h0M547.9 30.1h0M475.8 32.7h0M442.1 100.9h0M655.4 182.1h0M511.5 158.2h0M489.6 175.9h0M539.5 172.2h0M597.7 82.9h0M546.5 21.0h0M516.5 118.6h0M582.9 144.0h0M443.8 145.6h0M476.4 81.9h0M445.9 127.2h0M446.6 143.6h0M490.6 89.0h0M527.4 168.9h0M531.8 57.4h0M446.6 91.9h0M442.7 51.0h0M448.6 155.5h0M468.4 31.0h0M645.7 178.4h0M434.3 48.8h0M505.1 29.1h0M444.3 35.2h0M653.4 183.4h0M611.3 149.7h0M603.2 239.4h0M469.3 100.0h0M593.0 220.4h0M520.6 52.8h0M512.4 75.5h0M631.6 170.8h0M534.9 22.5h0M554.1 63.7h0M474.0 46.6h0M600.0 162.4h0M483.2 86.1h0M633.9 149.2h0M504.7 255.6h0M490.2 65.9h0M619.3 187.5h0M446.0 96.3h0M500.1 141.3h0M515.5 186.1h0M494.8 164.5h0M498.7 176.2h0M517.1 167.4h0M653.2 190.1h0M488.9 179.4h0M504.8 35.9h0M518.0 256.1h0M452.1 35.6h0M562.4 37.9h0M524.4 47.0h0M493.1 179.6h0" stroke="#3565cf"/><path d="M559.9 76.2h0M551.3 41.6h0M488.2 55.8h0M582.2 72.2h0M558.6 63.0h0M486.6 100.9h0M641.7 198.6h0M441.0 72.5h0M525.8 217.0h0M464.6 87.8h0M473.2 52.4h0M548.0 35.3h0M592.0 165.1h0M453.9 62.3h0M565.1 40.5h0M436.6 74.5h0M519.1 78.0h0M559.4 81.3h0M551.3 72.2h0M522.4 218.2h0M450.2 50.9h0M486.3 261.4h0M662.3 165.6h0M507.3 121.1h0M533.3 169.0h0M448.6 143.2h0M466.4 52.6h0M557.4 126.9h0M548.7 60.8h0M517.5 171.4h0M592.8 227.4h0M567.1 110.8h0M560.6 32.4h0M494.5 153.1h0M615.5 183.4h0M434.0 113.3h0M447.2 117.2h0M494.2 143.4h0M643.7 196.9h0M573.9 71.1h0M575.3 88.3h0M571.3 146.8h0M505.8 103.7h0M549.7 94.4h0M501.1 118.5h0M510.0 70.4h0M514.4 172.7h0M532.0 181.2h0M656.0 151.3h0M523.9 173.2h0M592.6 216.8h0M561.4 112.1h0M631.9 156.1h0M506.0 135.9h0M634.8 162.2h0M480.3 129.9h0M491.5 260.0h0M559.0 261.4h0M495.9 136.8h0M487.1 91.0h0M458.6 141.0h0M464.6 69.6h0M457.5 101.2h0M508.6 110.4h0M544.6 99.5h0M481.2 147.7h0M509.4 34.1h0M421.1 131.8h0M476.7 95.8h0M587.3 234.0h0M457.2 68.2h0M559.0 116.9h0M452.7 125.1h0M528.3 115.6h0M522.9 212.7h0M613.4 142.8h0M484.9 163.1h0M414.0 142.3h0M552.6 93.3h0M639.7 183.7h0M528.9 128.4h0M491.4 119.7h0M519.2 166.3h0M473.5 63.1h0M511.3 162.3h0M521.5 93.0h0M549.0 97.6h0M450.0 47.0h0M562.5 21.9h0M444.6 55.7h0M595.9 229.6h0M509.8 163.8h0M492.2 162.6h0M478.3 189.9h0M538.9 95.3h0M449.2 157.6h0M438.9 94.2h0M620.5 120.6h0M441.7 114.4h0M494.0 133.6h0M439.2 115.2h0M599.5 225.6h0M556.1 93.0h0M529.5 170.3h0M456.3 92.7h0M509.7 160.2h0M578.3 143.4h0M465.0 25.6h0M489.5 139.1h0M592.8 137.5h0M590.5 152.9h0M650.9 177.8h0M513.0 132.8h0M553.0 37.8h0M485.3 93.2h0M448.3 109.4h0M437.3 59.5h0M527.7 136.6h0M574.2 113.1h0M595.3 116.9h0M496.9 159.7h0M441.9 55.2h0M623.2 155.2h0M636.8 177.6h0M490.2 143.4h0M431.4 130.6h0M482.3 59.5h0M508.3 128.7h0M422.9 155.2h0M637.8 186.6h0M595.4 213.7h0M572.9 93.7h0M647.9 192.7h0M507.6 29.9h0M528.2 40.4h0M488.4 187.3h0M491.1 110.4h0" stroke="#3565cf"/><path d="M540.2 33.9h0M522.6 204.9h0M547.4 53.6h0M506.7 247.4h0M438.6 43.3h0M482.0 54.8h0M605.5 112.7h0M599.9 136.3h0M599.2 239.4h0M484.5 167.2h0M505.1 123.0h0M535.6 103.8h0M546.9 115.8h0M475.2 94.4h0M505.3 38.5h0M524.1 93.0h0M461.4 47.4h0M603.7 224.1h0M561.0 130.3h0M528.1 158.0h0M551.3 21.5h0M477.8 72.9h0M623.4 113.4h0M480.3 83.3h0M485.7 86.9h0M497.8 49.5h0M533.6 179.7h0M587.3 139.4h0M571.6 152.8h0M654.4 167.0h0M502.9 122.9h0M503.9 168.7h0M504.8 97.9h0M544.7 41.3h0M451.5 155.6h0M531.5 25.6h0M607.4 120.8h0M511.9 54.1h0M513.4 117.1h0M520.1 45.3h0M491.0 124.2h0M622.4 115.8h0M492.4 80.6h0M473.1 25.3h0M489.8 108.1h0M621.6 173.2h0M587.7 232.5h0M458.3 154.8h0M559.4 262.0h0M505.7 197.1h0M526.3 91.0h0M549.9 117.4h0M537.8 40.8h0M503.9 85.1h0M541.0 51.2h0M559.6 70.2h0M449.1 103.3h0M657.2 186.3h0M470.6 68.0h0M508.6 93.5h0M494.5 79.9h0M448.8 89.4h0M502.9 194.4h0M500.2 115.8h0M664.5 135.2h0M520.4 49.4h0M560.1 114.4h0M458.1 145.4h0M460.1 132.0h0M509.1 72.6h0M647.8 179.2h0M487.4 165.5h0M446.4 136.8h0M564.3 33.1h0M523.2 101.3h0M589.5 164.4h0M528.3 173.8h0M443.0 70.3h0M577.2 131.8h0M534.3 109.8h0M526.3 28.8h0M498.9 156.4h0M517.6 103.8h0M501.3 171.7h0M507.4 138.0h0M404.6 140.9h0M453.2 71.5h0M473.1 58.4h0M473.9 188.4h0M500.8 167.4h0M527.9 112.5h0M494.2 182.4h0M499.1 36.3h0M521.9 159.6h0M629.7 124.2h0M518.6 95.0h0M465.4 161.7h0M578.6 166.1h0" stroke="#de3a17"/><path d="M428.9 141.5h0M477.7 175.1h0M605.8 170.3h0M528.2 101.0h0M513.2 98.5h0M421.9 125.2h0M453.3 41.0h0M463.3 89.7h0M645.9 182.2h0M633.7 180.8h0M529.8 103.4h0M615.4 177.3h0M495.0 94.5h0M493.8 173.8h0M454.8 37.4h0M503.3 33.8h0M499.6 192.7h0M481.2 91.0h0M513.7 103.7h0M496.4 44.3h0M488.2 149.1h0M525.3 54.1h0M464.7 130.7h0M544.7 117.7h0M417.1 141.6h0M626.2 122.4h0M498.6 258.0h0M403.4 144.0h0M558.0 28.6h0M515.7 166.1h0M521.2 107.9h0M602.1 234.5h0M516.8 152.9h0M482.0 26.7h0M491.6 136.9h0M502.7 98.8h0M513.8 123.8h0M513.4 243.8h0M602.8 182.8h0M494.9 41.6h0M507.7 98.2h0M410.0 141.8h0M590.3 216.0h0M467.5 160.2h0M628.4 132.4h0M521.9 156.8h0M437.9 65.0h0M521.6 164.1h0M591.2 143.4h0M506.1 101.2h0M479.5 71.1h0M654.6 186.8h0M458.8 61.9h0M612.6 154.5h0M649.2 169.5h0M559.6 93.5h0M555.7 29.7h0M519.9 207.4h0M515.4 133.9h0M637.0 184.0h0M435.4 108.9h0M501.3 135.2h0M531.8 101.7h0M495.7 171.9h0M488.8 252.3h0M638.2 142.0h0M416.0 91.6h0M492.9 42.5h0M476.8 45.7h0M561.3 127.7h0M435.6 63.8h0M474.5 155.3h0M418.0 152.5h0M452.6 153.5h0M599.3 99.4h0M482.5 33.0h0M589.8 139.5h0M595.0 143.3h0M634.4 125.5h0M517.5 18.8h0M499.6 182.1h0M506.5 138.5h0M581.6 169.9h0M460.1 34.4h0M612.4 116.4h0M450.9 42.1h0M609.7 145.3h0M460.3 73.2h0M493.2 89.1h0M511.0 40.3h0M542.9 151.8h0M518.5 129.8h0M635.6 187.0h0M468.7 72.9h0M522.7 78.6h0M456.5 110.8h0M610.1 180.2h0M609.9 147.9h0M541.8 83.8h0M492.8 126.1h0M530.6 116.8h0M473.9 184.7h0M551.4 115.3h0M617.4 175.7h0" stroke="#de3a17"/><path d="M503.2 171.8h0M418.9 145.7h0M500.0 163.2h0M456.7 126.2h0M649.6 142.2h0M531.5 36.8h0M455.9 103.2h0M534.5 92.1h0M595.9 238.7h0M545.7 31.6h0M458.8 128.0h0M554.2 95.0h0M482.6 21.5h0M508.2 79.7h0M523.9 71.7h0M592.2 134.1h0M546.5 98.1h0M656.8 173.1h0M451.9 93.6h0M567.3 98.1h0M488.1 93.4h0M558.3 88.9h0M552.3 28.1h0M534.3 26.2h0M550.3 92.5h0M585.0 136.4h0M643.5 114.3h0M461.3 154.9h0M500.7 132.4h0M448.0 137.5h0M454.9 64.7h0M575.5 129.5h0M488.2 82.7h0M507.5 78.9h0M621.5 191.6h0M500.7 176.1h0M447.8 113.0h0M446.1 147.4h0M520.0 162.0h0M523.4 182.7h0M603.3 221.6h0M651.2 140.2h0M542.2 119.4h0M444.5 181.2h0M519.9 113.0h0M542.8 78.1h0M606.6 150.2h0M625.8 146.4h0M484.8 23.0h0M473.2 93.4h0M448.7 49.3h0M420.5 154.1h0M619.1 173.1h0M484.0 28.8h0M486.0 255.1h0M494.4 44.7h0M446.1 130.6h0M582.0 217.1h0M606.0 174.6h0M505.6 131.6h0M507.3 186.1h0M540.2 74.4h0M515.5 163.9h0M444.0 81.8h0M584.0 72.7h0M547.9 23.6h0M639.0 155.7h0M591.1 224.4h0M488.6 260.2h0M643.5 154.3h0M570.2 150.9h0M594.8 218.3h0M480.7 149.8h0M468.1 33.5h0M633.4 149.4h0M438.1 107.8h0M445.4 101.2h0M625.5 184.5h0M580.9 171.9h0M590.5 221.1h0M524.7 219.5h0M509.9 15.5h0M485.2 122.3h0M628.1 192.9h0M522.0 154.7h0M653.1 134.4h0M607.0 155.7h0M513.7 159.5h0M568.4 95.8h0M475.5 57.5h0M485.2 107.1h0M471.9 95.9h0M482.5 93.3h0M625.8 112.5h0M439.4 45.7h0M573.1 56.2h0M457.0 78.0h0M573.8 153.3h0M548.8 77.4h0M586.1 217.1h0M491.2 96.9h0M487.9 46.9h0M520.6 210.4h0M502.0 75.3h0M587.0 168.8h0M650.2 145.2h0M454.5 78.5h0M489.0 96.2h0M455.6 90.0h0M447.9 78.8h0M490.8 33.9h0M533.4 103.8h0M604.5 228.6h0M453.2 90.4h0M574.7 132.5h0M471.8 74.3h0M614.6 131.4h0M483.3 89.1h0M586.3 128.8h0M587.9 160.6h0M530.4 113.4h0M561.3 119.0h0M606.8 230.1h0M518.8 193.6h0M536.5 48.0h0M550.6 59.1h0M474.0 148.2h0M511.6 25.8h0M556.6 64.7h0M458.4 60.1h0M498.8 134.5h0" stroke="#3565cf"/><path d="M571.2 110.5h0M523.4 32.1h0M545.5 49.9h0M599.4 179.2h0M605.0 148.1h0M643.3 150.6h0M471.8 28.8h0M475.3 175.9h0M585.1 232.6h0M555.2 98.3h0M461.6 64.8h0M584.4 209.3h0M497.6 162.4h0M541.6 95.5h0M519.1 24.4h0M558.1 257.5h0M558.4 123.1h0M530.4 156.0h0M649.3 182.8h0M547.6 94.7h0M555.2 56.2h0M633.4 190.8h0M489.3 33.7h0M519.7 170.4h0M533.3 146.0h0M512.2 245.7h0M600.5 158.0h0M518.3 47.2h0M454.3 138.5h0M596.0 241.8h0M573.7 68.5h0M464.5 19.3h0M530.7 115.1h0M469.8 81.4h0M601.0 241.2h0M496.4 249.6h0M456.6 130.3h0M470.6 102.6h0M467.7 76.4h0M598.3 246.5h0M536.8 84.3h0M512.5 166.8h0M555.6 81.5h0M457.4 81.1h0M573.5 65.0h0M476.4 26.3h0M457.8 41.2h0M647.1 156.3h0M532.1 164.7h0M502.0 249.9h0M474.4 158.8h0M499.0 39.9h0M515.8 21.7h0M490.5 51.8h0M568.1 151.2h0M569.5 56.3h0M535.9 20.1h0M528.0 188.4h0M459.3 148.3h0M653.8 142.6h0M495.9 197.1h0M524.4 128.3h0M522.5 171.4h0M516.7 174.0h0M570.0 58.9h0M591.4 157.7h0M556.0 84.1h0M565.1 94.7h0M420.6 148.4h0M511.7 248.4h0M642.1 135.5h0M483.9 95.4h0M601.2 173.0h0M641.9 170.6h0M505.0 160.4h0M517.1 132.5h0M652.1 194.3h0M526.6 50.4h0M628.8 118.5h0M656.0 164.9h0M412.4 146.7h0M567.6 58.4h0M484.8 57.3h0M556.7 75.9h0M598.2 243.2h0M533.4 99.1h0M587.4 142.5h0M518.3 163.9h0M594.9 171.8h0M639.2 131.7h0M629.6 154.9h0M456.1 140.4h0M638.8 150.2h0M522.1 80.8h0M549.0 44.8h0M485.1 42.8h0M536.4 111.6h0M501.5 189.8h0M519.7 217.5h0M480.6 31.8h0M539.7 82.3h0M538.2 116.7h0M435.3 82.0h0M480.0 153.8h0M644.3 193.4h0M592.2 116.9h0M655.0 178.9h0M495.4 96.9h0M622.6 139.2h0M640.6 145.0h0M562.8 114.4h0M638.2 140.5h0M600.0 223.1h0M641.4 176.1h0M478.7 22.5h0M562.3 92.3h0M499.6 19.5h0M596.4 234.3h0M502.4 142.9h0M503.3 15.3h0M627.2 142.8h0M620.1 153.9h0M452.9 141.7h0M495.0 188.1h0M524.0 140.4h0M657.1 142.6h0M515.7 132.8h0" stroke="#3565cf"/><path d="M539.2 111.0h0M526.8 38.2h0M569.0 185.2h0M485.8 183.1h0M491.6 83.2h0M501.2 124.8h0M484.6 92.1h0M505.1 105.2h0M486.4 132.8h0M487.1 169.4h0M480.9 65.5h0M477.0 88.7h0M440.2 112.9h0M612.6 147.4h0M469.3 75.0h0M634.2 164.7h0M480.5 52.6h0M559.7 262.7h0M651.7 153.3h0M454.5 147.4h0M461.9 75.6h0M506.6 182.8h0M515.6 259.8h0M500.9 108.2h0M523.6 36.4h0M474.0 93.1h0M452.3 49.3h0M513.6 164.4h0M499.0 255.2h0M518.0 71.2h0M450.3 107.3h0M566.9 32.8h0M536.2 81.8h0M461.2 52.4h0M654.0 152.1h0M601.7 143.9h0M433.5 61.4h0M472.9 103.9h0M561.9 135.7h0M524.4 136.5h0M462.1 86.8h0M469.9 97.0h0M527.0 169.7h0M527.4 180.3h0M491.7 78.1h0M479.2 29.6h0M526.9 143.1h0M504.5 249.9h0M451.5 37.9h0M492.4 105.9h0M495.7 34.1h0M534.3 80.4h0M505.0 48.7h0M421.7 134.6h0M560.1 263.4h0M494.6 67.1h0M506.5 106.8h0M459.6 75.8h0M521.5 79.6h0M507.0 89.7h0M465.9 178.7h0M543.9 16.9h0M532.1 135.0h0M590.1 166.3h0M533.4 82.8h0M482.4 134.2h0M480.8 257.4h0M526.2 92.6h0M471.7 188.0h0M475.9 146.5h0M501.8 87.9h0M617.3 159.6h0M510.2 86.4h0M483.3 256.7h0M647.4 167.3h0M422.8 148.7h0M504.0 133.9h0M456.9 152.1h0M496.9 73.2h0M471.1 63.3h0M596.7 151.2h0M640.7 191.6h0M412.9 152.9h0M494.1 87.1h0M568.5 184.2h0M489.7 135.6h0M613.2 166.7h0M445.8 83.2h0M491.1 72.4h0M615.0 180.2h0M476.7 168.9h0M532.5 94.2h0M629.8 144.0h0M463.3 153.2h0M658.9 184.8h0M617.6 179.8h0M647.0 135.6h0M450.4 142.0h0M488.7 167.6h0M462.9 73.3h0M491.7 74.9h0M454.2 43.6h0M427.8 80.0h0M491.4 133.1h0M455.9 132.2h0M536.0 108.7h0M592.3 143.4h0M511.2 165.6h0" stroke="#de3a17"/><path d="M516.8 35.0h0M445.5 197.2h0M444.5 50.1h0M451.9 31.7h0M509.7 80.2h0M521.7 118.3h0M473.7 33.3h0M573.4 150.1h0M415.9 146.2h0M526.5 153.9h0M633.2 178.3h0M655.8 136.5h0M445.7 139.0h0M652.8 145.3h0M467.5 191.2h0M634.5 131.6h0M481.1 64.4h0M514.5 190.2h0M539.8 104.7h0M535.8 101.2h0M470.9 76.3h0M547.6 41.3h0M525.2 100.2h0M422.9 151.3h0M408.6 151.1h0M524.3 130.9h0M520.1 78.7h0M539.6 184.8h0M449.0 120.7h0M508.8 107.8h0M588.5 222.3h0M615.1 160.7h0M541.3 102.5h0M548.0 104.2h0M554.7 116.5h0M515.6 115.1h0M485.6 188.4h0M487.9 257.8h0M455.3 113.1h0M580.9 134.3h0M629.1 141.1h0M510.7 125.6h0M502.3 258.1h0M622.2 145.8h0M419.6 142.3h0M402.3 142.4h0M458.1 30.2h0M561.8 266.7h0M652.5 175.8h0M653.1 185.3h0M513.2 128.3h0M480.1 24.1h0M504.8 245.7h0M516.5 176.3h0M489.4 69.7h0M456.1 55.9h0M489.2 162.3h0M457.3 150.1h0M490.2 30.6h0M467.0 91.5h0M528.4 89.5h0M457.4 121.6h0M532.6 181.5h0M520.1 220.1h0M438.5 52.1h0M498.8 165.9h0M432.1 49.6h0M470.3 160.5h0M465.5 48.4h0M502.8 109.4h0M590.9 238.0h0M441.1 52.3h0M426.6 75.7h0M444.3 142.1h0M472.0 86.1h0M454.8 121.1h0M484.8 137.9h0M461.3 166.5h0M530.2 82.1h0M524.9 206.1h0M644.2 180.3h0M490.2 98.9h0M492.5 70.2h0M493.1 34.6h0M465.9 56.8h0M526.5 32.5h0M523.3 176.8h0M657.1 177.3h0M510.5 98.8h0M488.8 61.8h0M477.9 84.0h0M629.1 168.3h0M450.6 136.7h0M500.5 45.4h0M604.6 151.1h0M536.5 118.3h0M482.1 75.4h0M511.5 100.8h0M540.4 31.1h0M467.4 28.5h0M482.1 173.2h0M413.3 151.4h0M543.6 49.4h0M581.6 160.2h0M534.2 86.8h0M526.1 104.0h0M545.2 71.6h0M491.5 181.6h0M607.3 142.4h0M497.6 96.4h0M528.6 125.8h0M542.0 77.4h0M469.6 103.0h0" stroke="#de3a17"/><path d="M648.7 154.0h0M496.9 256.0h0M485.1 70.8h0M586.0 178.3h0M530.1 100.7h0M533.2 143.4h0M596.1 232.2h0M435.7 46.2h0M617.9 143.3h0M601.3 244.7h0M507.8 171.5h0M484.6 99.9h0M451.7 103.4h0M507.1 254.5h0M657.8 139.3h0M624.7 140.8h0M441.8 67.1h0M519.8 134.3h0M514.7 246.0h0M497.8 100.0h0M457.5 74.3h0M548.5 71.5h0M529.2 58.7h0M632.1 123.2h0M623.1 168.4h0M450.3 124.4h0M649.4 151.5h0M461.1 89.4h0M535.2 57.1h0M648.4 148.3h0M456.5 116.6h0M479.1 186.0h0M512.9 52.1h0M498.6 94.1h0M538.4 28.9h0M469.1 26.5h0M655.1 153.9h0M599.9 129.4h0M606.3 226.7h0M532.2 184.9h0M472.9 88.5h0M475.1 23.7h0M647.0 175.4h0M574.0 122.4h0M487.9 122.7h0M504.1 162.7h0M519.9 144.9h0M529.9 31.3h0M449.4 85.1h0M619.8 181.8h0M452.1 105.4h0M556.9 71.7h0M469.0 59.6h0M447.4 85.8h0M638.7 193.3h0M484.1 180.9h0M450.1 111.8h0M569.1 160.6h0M472.7 159.5h0M431.1 47.2h0M632.5 130.1h0M488.9 118.8h0M629.6 173.5h0M420.8 151.6h0M555.5 38.9h0M460.0 102.7h0M487.0 193.0h0M554.9 59.9h0M487.2 44.3h0M494.8 51.9h0M501.5 40.9h0M471.2 154.6h0M559.6 83.7h0M484.9 107.0h0M498.8 187.1h0M600.4 167.7h0M490.6 63.7h0M524.3 160.7h0M504.9 119.2h0M459.3 134.5h0M638.3 165.4h0M602.5 147.5h0M514.1 49.7h0M543.3 97.2h0M493.5 107.7h0M555.7 43.5h0M660.1 187.0h0M565.5 58.3h0M528.1 207.3h0M512.5 130.2h0M459.2 112.8h0M608.1 176.2h0M566.9 71.3h0M481.6 126.2h0M511.5 34.1h0M448.1 145.7h0M524.0 28.4h0M526.5 139.6h0M640.4 139.1h0M529.6 79.3h0M471.8 60.5h0M612.5 152.4h0M459.9 42.5h0M562.6 95.8h0M520.1 85.4h0M480.8 171.1h0M589.5 218.0h0M621.9 141.3h0M617.7 150.8h0M559.2 73.0h0M535.3 80.3h0M495.5 37.3h0M460.7 69.5h0M467.0 165.4h0M591.8 178.9h0M611.7 138.0h0M598.9 242.8h0M585.8 166.1h0M626.4 134.4h0M540.9 153.5h0M445.7 133.3h0M467.1 81.3h0" stroke="#3565cf"/><path d="M526.7 57.7h0M454.5 159.8h0M448.4 134.3h0M512.0 155.5h0M596.3 174.0h0M425.0 131.3h0M614.4 155.9h0M594.4 149.9h0M525.4 161.6h0M606.2 177.3h0M588.0 175.7h0M546.8 43.4h0M491.0 102.9h0M505.6 166.5h0M422.1 133.6h0M459.6 158.4h0M562.3 99.7h0M474.6 30.7h0M459.6 152.5h0M600.4 232.1h0M474.1 97.3h0M514.6 181.9h0M571.1 149.0h0M448.0 152.0h0M579.1 119.3h0M455.8 153.8h0M526.3 134.1h0M473.4 22.4h0M602.1 217.7h0M655.0 151.3h0M559.6 25.2h0M528.5 27.4h0M508.7 176.6h0M512.6 137.7h0M603.6 131.6h0M649.7 156.0h0M544.0 67.2h0M497.5 120.6h0M530.4 87.8h0M502.7 164.6h0M498.1 132.1h0M471.2 35.3h0M583.5 146.6h0M646.0 143.9h0M468.4 79.1h0M549.2 80.0h0M500.3 20.0h0M626.1 190.3h0M615.4 186.8h0M446.2 103.9h0M526.0 178.1h0M467.9 70.4h0M514.2 34.7h0M593.3 243.0h0M602.4 168.9h0M510.4 252.8h0M646.3 146.7h0M511.1 122.1h0M648.8 158.5h0M590.8 176.5h0M618.6 123.0h0M428.4 135.0h0M661.7 170.6h0M447.3 149.4h0M563.4 78.3h0M515.2 137.8h0M523.9 172.1h0M503.2 158.2h0M637.9 116.1h0M572.4 91.1h0M563.4 57.0h0M491.2 267.6h0M471.3 70.5h0M562.4 71.0h0M602.8 231.5h0M512.4 176.3h0M520.7 178.3h0M583.5 118.2h0M565.2 85.2h0M568.5 136.6h0M595.2 135.0h0M517.2 179.4h0M486.1 163.9h0M572.1 82.9h0M487.6 143.5h0M552.9 86.8h0M623.9 121.4h0M517.7 126.2h0M626.2 176.9h0M616.3 129.5h0M481.7 29.4h0M442.5 62.3h0M457.1 147.7h0M445.0 52.3h0M524.0 189.6h0M467.5 43.7h0M437.3 110.3h0M436.5 50.2h0M434.5 79.5h0M578.9 126.9h0M484.4 54.1h0M616.3 121.7h0M623.5 145.8h0M535.8 186.9h0M529.1 77.3h0M582.7 157.8h0M523.0 107.6h0M631.9 164.7h0M614.1 143.3h0M433.7 55.2h0M642.0 178.6h0M470.5 94.5h0" stroke="#3565cf"/><path d="M488.1 125.5h0M448.1 50.7h0M431.8 63.4h0M462.9 165.2h0M524.3 180.2h0M653.0 182.7h0M643.4 143.8h0M517.6 116.3h0M582.9 212.3h0M587.8 215.3h0M539.5 149.9h0M537.6 38.2h0M511.6 110.7h0M657.7 180.9h0M589.5 228.9h0M458.4 48.2h0M483.6 51.6h0M450.8 114.4h0M531.0 99.9h0M653.5 137.3h0M524.7 22.8h0M578.3 168.7h0M532.0 34.4h0M500.2 55.5h0M440.2 57.2h0M501.2 137.4h0M517.4 100.2h0M485.0 38.9h0M446.6 88.2h0M499.0 179.0h0M599.7 146.9h0M441.4 74.1h0M655.5 157.9h0M467.5 151.8h0M627.9 120.4h0M497.1 63.3h0M536.1 54.0h0M543.8 80.4h0M507.9 103.4h0M492.1 128.1h0M517.0 30.2h0M560.4 264.0h0M508.6 136.4h0M489.8 126.9h0M480.7 136.9h0M504.9 141.9h0M610.4 135.6h0M487.5 190.1h0M503.2 135.8h0M500.5 77.4h0M490.2 84.0h0M593.3 181.2h0M510.0 96.4h0M519.8 81.4h0M445.2 85.7h0M624.9 133.0h0M542.4 117.3h0M527.4 109.8h0M486.7 103.0h0M515.5 87.2h0M489.4 53.5h0M461.7 107.4h0M628.2 175.8h0M600.7 149.3h0M453.4 128.0h0M596.3 156.4h0M524.7 144.4h0M422.6 152.8h0M494.1 100.1h0M606.9 166.4h0M643.4 148.5h0M520.4 181.2h0M558.7 260.7h0M584.2 179.4h0M484.0 132.1h0M519.6 166.6h0M511.2 102.8h0M528.5 93.9h0M612.3 145.2h0M549.7 27.6h0M406.1 150.8h0M534.1 166.1h0M506.4 84.5h0M515.9 109.1h0M646.6 138.1h0M536.0 71.5h0M491.9 121.2h0M484.4 25.7h0M465.2 100.6h0M552.1 23.9h0M620.2 146.2h0M472.6 49.8h0M488.4 86.5h0M495.3 80.7h0M524.7 223.3h0M538.7 49.4h0M600.7 219.9h0M597.6 137.5h0M508.1 93.5h0M443.2 60.4h0M508.2 105.7h0M532.6 107.8h0M461.9 157.1h0M521.5 178.7h0M494.1 138.7h0M507.5 124.0h0M557.9 31.8h0M445.0 28.0h0M523.3 132.1h0M508.3 194.6h0M509.2 96.1h0M590.5 128.4h0M632.3 144.5h0M530.4 91.1h0M484.4 36.4h0M538.2 119.3h0M518.4 74.4h0M598.3 149.2h0M551.1 70.0h0M514.6 178.8h0M486.4 180.5h0M545.9 90.6h0M484.7 144.5h0" stroke="#de3a17"/><path d="M635.0 144.7h0M466.1 156.3h0M479.5 173.1h0M532.4 28.0h0M492.8 189.3h0M523.2 116.2h0M522.3 29.7h0M503.7 31.4h0M536.5 92.7h0M458.7 71.2h0M494.0 130.6h0M491.1 177.1h0M529.7 160.0h0M519.3 121.4h0M493.6 168.6h0M542.2 53.6h0M521.4 173.6h0M446.4 75.3h0M537.4 45.2h0M505.8 43.0h0M514.8 100.6h0M579.8 124.5h0M400.4 149.8h0M616.1 174.1h0M476.5 185.4h0M492.2 184.3h0M416.6 143.7h0M502.5 102.9h0M452.9 49.3h0M470.2 88.2h0M519.8 76.1h0M518.0 53.2h0M646.5 198.2h0M490.7 49.2h0M502.1 178.9h0M529.0 36.2h0M531.5 84.3h0M413.3 144.3h0M499.5 106.0h0M505.9 172.4h0M560.8 46.4h0M500.5 92.2h0M503.3 177.2h0M522.0 51.2h0M441.2 82.7h0M493.8 56.4h0M518.8 33.1h0M639.4 179.0h0M553.4 56.6h0M613.8 169.2h0M518.0 108.7h0M427.1 73.2h0M529.2 105.6h0M465.1 181.1h0M601.7 226.8h0M492.5 265.4h0M601.0 151.5h0M650.4 193.2h0M473.6 40.8h0M454.0 135.2h0M532.0 158.0h0M522.1 105.2h0M453.2 145.1h0M524.1 39.8h0M601.9 179.9h0M490.3 181.5h0M656.7 171.5h0M498.5 252.5h0M506.2 94.3h0M404.4 152.7h0M515.6 40.9h0M507.0 76.8h0M503.0 21.2h0M526.9 119.8h0M650.0 189.9h0M481.9 187.0h0M532.2 149.9h0M493.8 81.3h0M470.0 152.1h0M636.5 142.4h0M512.9 23.0h0M622.9 185.3h0M512.7 41.5h0M515.2 169.7h0M522.1 220.8h0M609.2 150.3h0M539.5 18.9h0M542.8 114.2h0M528.0 85.4h0M516.3 106.6h0M532.7 90.0h0M456.2 87.4h0M517.1 182.7h0M655.6 184.2h0M486.6 139.8h0M490.6 171.8h0M561.1 265.4h0M398.3 141.8h0M663.9 185.7h0M417.6 90.0h0M463.4 111.9h0M660.2 164.1h0M625.0 170.2h0M448.3 53.3h0M651.9 191.7h0M455.5 107.3h0M508.9 77.2h0M652.0 180.9h0" stroke="#de3a17"/><path d="M589.9 142.0h0M616.3 140.4h0M538.8 114.5h0M520.8 195.3h0M583.8 165.3h0M481.8 100.7h0M576.7 86.1h0M501.3 253.1h0M461.0 60.0h0M522.9 56.1h0M486.1 49.9h0M502.2 53.7h0M571.5 157.0h0M458.9 162.8h0M582.7 136.1h0M493.1 123.7h0M618.4 138.4h0M587.0 133.3h0M638.9 162.2h0M485.4 258.5h0M641.3 181.6h0M543.9 111.1h0M502.2 162.0h0M436.6 84.5h0M446.1 57.9h0M463.6 114.5h0M540.2 97.5h0M460.0 85.6h0M452.3 112.6h0M454.3 87.6h0M504.0 174.3h0M480.5 134.9h0M463.6 78.3h0M584.9 176.0h0M589.9 161.5h0M553.4 82.0h0M454.2 109.5h0M487.0 82.8h0M659.4 167.0h0M586.9 152.7h0M519.4 27.3h0M636.6 131.9h0M560.6 64.1h0M573.0 85.4h0M510.9 48.1h0M490.7 86.1h0M549.7 91.8h0M641.8 146.8h0M552.6 85.4h0M570.7 119.3h0M657.4 190.8h0M467.3 171.0h0M594.8 139.5h0M602.9 136.7h0M580.9 144.0h0M548.6 69.2h0M513.0 259.5h0M449.1 65.9h0M478.3 33.0h0M538.1 32.4h0M513.0 137.4h0M630.4 148.4h0M493.1 145.1h0M496.2 54.2h0M544.4 84.2h0M488.7 174.1h0M490.2 262.2h0M546.3 86.4h0M657.4 188.5h0M636.0 149.4h0M485.5 89.2h0M514.1 120.7h0M445.2 90.3h0M471.9 186.6h0M450.1 139.5h0M565.9 61.2h0M658.9 170.0h0M640.8 163.6h0M568.5 153.7h0M477.6 24.9h0M633.2 185.9h0M594.1 147.3h0M573.9 60.9h0M452.2 52.0h0M570.6 72.8h0M613.3 119.9h0M496.9 65.9h0M517.0 248.4h0M474.2 103.1h0M557.3 82.6h0M532.3 30.5h0M657.4 145.2h0M608.0 134.8h0M624.4 129.2h0M457.3 40.9h0M633.1 173.3h0M588.3 238.3h0M475.4 59.5h0M502.7 46.0h0M584.1 219.3h0M474.1 162.4h0M569.2 88.0h0M567.6 156.5h0M602.3 139.8h0M616.6 157.3h0M456.1 43.2h0M604.4 167.4h0M449.0 171.2h0M468.8 36.0h0M545.3 52.2h0M650.0 172.8h0M605.6 135.2h0M472.5 206.2h0M630.0 178.2h0M634.1 170.4h0M499.2 122.0h0M519.5 30.0h0M571.2 66.2h0M547.9 100.3h0M593.0 129.3h0M467.8 25.1h0M622.6 131.7h0M568.6 84.5h0M608.2 169.3h0M664.7 180.1h0M535.3 36.9h0M540.8 186.0h0" stroke="#3565cf"/></g><g font-size="20" font-weight="bold" fill="#000" stroke="#000" stroke-width="0.55"><rect x="102.5" y="61.0" width="13.0" height="16.5" fill="#fff" stroke="none"/><text x="109.0" y="76.5" text-anchor="middle">0</text><rect x="177.7" y="6.4" width="13.0" height="16.5" fill="#fff" stroke="none"/><text x="184.2" y="21.9" text-anchor="middle">6</text><rect x="214.3" y="77.0" width="13.0" height="16.5" fill="#fff" stroke="none"/><text x="220.8" y="92.5" text-anchor="middle">7</text><rect x="149.2" y="85.0" width="13.0" height="16.5" fill="#fff" stroke="none"/><text x="155.7" y="100.5" text-anchor="middle">4</text><rect x="46.5" y="118.7" width="13.0" height="16.5" fill="#fff" stroke="none"/><text x="53.0" y="134.2" text-anchor="middle">5</text><rect x="143.2" y="165.2" width="13.0" height="16.5" fill="#fff" stroke="none"/><text x="149.7" y="180.7" text-anchor="middle">1</text><rect x="265.7" y="130.9" width="13.0" height="16.5" fill="#fff" stroke="none"/><text x="272.2" y="146.4" text-anchor="middle">3</text><rect x="268.8" y="169.5" width="13.0" height="16.5" fill="#fff" stroke="none"/><text x="275.3" y="185.0" text-anchor="middle">2</text><rect x="246.0" y="229.5" width="13.0" height="16.5" fill="#fff" stroke="none"/><text x="252.5" y="245.0" text-anchor="middle">8</text><rect x="133.5" y="234.5" width="13.0" height="16.5" fill="#fff" stroke="none"/><text x="140.0" y="250.0" text-anchor="middle">9</text><rect x="211.2" y="256.3" width="23.6" height="16.5" fill="#fff" stroke="none"/><text x="223.0" y="271.8" text-anchor="middle">10</text></g><g font-size="30.5" font-weight="bold"><text x="5" y="25.8">A</text><text x="360" y="24.5">B</text><text x="5.2" y="333.3">C</text></g><text x="595.6" y="32.6" font-size="18.8" fill="#1a6fc4">Control</text><text x="597.2" y="57.4" font-size="17.8" font-style="italic" fill="#f20000" textLength="49.5" lengthAdjust="spacingAndGlyphs">Twist1</text><text x="649.6" y="52.4" font-size="12.2" font-style="italic" fill="#f20000">ECKO</text><rect x="75.3" y="340.8" width="16" height="78.2" fill="#e60000"/><rect x="75.3" y="419.0" width="16" height="97.0" fill="#1c64c4"/><rect x="99.9" y="381.5" width="16" height="64.8" fill="#e60000"/><rect x="99.9" y="446.4" width="16" height="69.6" fill="#1c64c4"/><rect x="124.5" y="428.6" width="16" height="32.6" fill="#e60000"/><rect x="124.5" y="461.2" width="16" height="54.8" fill="#1c64c4"/><rect x="149.1" y="431.5" width="16" height="38.2" fill="#e60000"/><rect x="149.1" y="469.7" width="16" height="46.3" fill="#1c64c4"/><rect x="173.7" y="441.9" width="16" height="52.2" fill="#e60000"/><rect x="173.7" y="494.1" width="16" height="21.9" fill="#1c64c4"/><rect x="198.3" y="449.0" width="16" height="34.8" fill="#e60000"/><rect x="198.3" y="483.8" width="16" height="32.2" fill="#1c64c4"/><rect x="222.9" y="458.4" width="16" height="26.9" fill="#e60000"/><rect x="222.9" y="485.3" width="16" height="30.7" fill="#1c64c4"/><rect x="247.5" y="465.8" width="16" height="7.6" fill="#e60000"/><rect x="247.5" y="473.4" width="16" height="42.6" fill="#1c64c4"/><rect x="272.1" y="485.3" width="16" height="8.9" fill="#e60000"/><rect x="272.1" y="494.1" width="16" height="21.9" fill="#1c64c4"/><rect x="296.7" y="492.1" width="16" height="8.5" fill="#e60000"/><rect x="296.7" y="500.6" width="16" height="15.4" fill="#1c64c4"/><rect x="321.3" y="510.4" width="16" height="2.0" fill="#e60000"/><rect x="321.3" y="512.5" width="16" height="3.5" fill="#1c64c4"/><path d="M67.3 330.8V516.8M59.6 516.8H342" stroke="#000" stroke-width="1.9" fill="none"/><path d="M59.6 479.0H67M59.6 441.9H67M59.6 404.9H67M59.6 367.8H67M59.6 330.8H67M83.3 516.8v7M107.9 516.8v7M132.5 516.8v7M157.1 516.8v7M181.7 516.8v7M206.3 516.8v7M230.9 516.8v7M255.5 516.8v7M280.1 516.8v7M304.7 516.8v7M329.3 516.8v7" stroke="#000" stroke-width="1.9"/><g font-size="14.3" font-weight="bold" text-anchor="end"><text x="56.6" y="520.9">0</text><text x="56.6" y="483.9">100</text><text x="56.6" y="446.8">200</text><text x="56.6" y="409.8">300</text><text x="56.6" y="372.7">400</text><text x="56.6" y="335.7">500</text></g><g font-size="14.3" font-weight="bold" text-anchor="middle"><text x="83.3" y="538.6">0</text><text x="107.9" y="538.6">1</text><text x="132.5" y="538.6">2</text><text x="157.1" y="538.6">3</text><text x="181.7" y="538.6">4</text><text x="206.3" y="538.6">5</text><text x="230.9" y="538.6">6</text><text x="255.5" y="538.6">7</text><text x="280.1" y="538.6">8</text><text x="304.7" y="538.6">9</text><text x="329.3" y="538.6">10</text></g><text x="206.3" y="562.4" font-size="15.5" font-weight="bold" text-anchor="middle">Cluster</text><text transform="translate(24.7 423) rotate(-90)" font-size="15" font-weight="bold" text-anchor="middle">cell count</text><rect x="229.4" y="329.8" width="22.4" height="11" fill="#1c64c4"/><rect x="229.4" y="359.4" width="22.4" height="10.8" fill="#e60000"/><text x="257.6" y="338.9" font-size="16" fill="#1f6fc8">Control</text><text x="259" y="367.8" font-size="16" font-style="italic" fill="#e60000">Twist1<tspan font-size="10.5" dy="-6">ECKO</tspan></text><rect x="412.8" y="334.2" width="16" height="91.6" fill="#ff0000"/><rect x="412.8" y="425.8" width="16" height="91.6" fill="#2b64c6"/><rect x="437.2" y="334.2" width="16" height="97.8" fill="#ff0000"/><rect x="437.2" y="432.0" width="16" height="85.4" fill="#2b64c6"/><rect x="461.5" y="334.2" width="16" height="77.9" fill="#ff0000"/><rect x="461.5" y="412.1" width="16" height="105.3" fill="#2b64c6"/><rect x="485.9" y="334.2" width="16" height="91.6" fill="#ff0000"/><rect x="485.9" y="425.8" width="16" height="91.6" fill="#2b64c6"/><rect x="510.2" y="334.2" width="16" height="137.0" fill="#ff0000"/><rect x="510.2" y="471.2" width="16" height="46.2" fill="#2b64c6"/><rect x="534.5" y="334.2" width="16" height="104.4" fill="#ff0000"/><rect x="534.5" y="438.6" width="16" height="78.8" fill="#2b64c6"/><rect x="558.9" y="334.2" width="16" height="91.6" fill="#ff0000"/><rect x="558.9" y="425.8" width="16" height="91.6" fill="#2b64c6"/><rect x="583.2" y="334.2" width="16" height="36.3" fill="#ff0000"/><rect x="583.2" y="370.5" width="16" height="146.9" fill="#2b64c6"/><rect x="607.6" y="334.2" width="16" height="60.5" fill="#ff0000"/><rect x="607.6" y="394.7" width="16" height="122.7" fill="#2b64c6"/><rect x="632.0" y="334.2" width="16" height="76.6" fill="#ff0000"/><rect x="632.0" y="410.8" width="16" height="106.6" fill="#2b64c6"/><rect x="656.3" y="334.2" width="16" height="94.2" fill="#ff0000"/><rect x="656.3" y="428.4" width="16" height="89.0" fill="#2b64c6"/><path d="M405.1 334.3V518.2M397 518.2H682" stroke="#000" stroke-width="1.9" fill="none"/><path d="M397 425.8H405M397 334.2H405M420.8 518.2v7M445.2 518.2v7M469.5 518.2v7M493.9 518.2v7M518.2 518.2v7M542.5 518.2v7M566.9 518.2v7M591.2 518.2v7M615.6 518.2v7M640.0 518.2v7M664.3 518.2v7" stroke="#000" stroke-width="1.9"/><path d="M400.9 508.2H405M400.9 499.1H405M400.9 489.9H405M400.9 480.8H405M400.9 471.6H405M400.9 462.4H405M400.9 453.3H405M400.9 444.1H405M400.9 435.0H405M400.9 416.6H405M400.9 407.5H405M400.9 398.3H405M400.9 389.2H405M400.9 380.0H405M400.9 370.8H405M400.9 361.7H405M400.9 352.5H405M400.9 343.4H405" stroke="#000" stroke-width="1.5"/><path d="M405 426.2H685" stroke="#000" stroke-width="2.7" stroke-dasharray="2.7 3.35"/><g font-size="14.3" font-weight="bold" text-anchor="end"><text x="394.8" y="522.3">0</text><text x="394.8" y="430.7">50</text><text x="394.8" y="339.1">100</text></g><g font-size="14.3" font-weight="bold" text-anchor="middle"><text x="420.8" y="540.2">0</text><text x="445.2" y="540.2">1</text><text x="469.5" y="540.2">2</text><text x="493.9" y="540.2">3</text><text x="518.2" y="540.2">4</text><text x="542.5" y="540.2">5</text><text x="566.9" y="540.2">6</text><text x="591.2" y="540.2">7</text><text x="615.6" y="540.2">8</text><text x="640.0" y="540.2">9</text><text x="664.3" y="540.2">10</text></g><text x="542.8" y="564.4" font-size="15.5" font-weight="bold" text-anchor="middle">Cluster</text><text transform="translate(363.5 425.8) rotate(-90)" font-size="15" font-weight="bold" text-anchor="middle">% cells</text><text x="5" y="613.4" font-size="30.5" font-weight="bold">D</text><rect x="56.4" y="612.4" width="603.2" height="119" fill="none" stroke="#000" stroke-width="1.3"/><rect x="175.6" y="619.6" width="124" height="101.2" fill="none" stroke="#1a73c8" stroke-width="2"/><rect x="482.7" y="616.6" width="114.4" height="103.9" fill="none" stroke="#1a73c8" stroke-width="2"/><path d="M86.60 660.50L86.60 661.78L86.63 663.05L86.70 664.33L86.83 665.61L87.04 666.89L87.34 668.16L87.73 669.44L88.23 670.72L88.82 672.00L89.49 673.27L90.24 674.55L91.05 675.83L91.88 677.10L92.73 678.38L93.56 679.66L94.35 680.94L95.07 682.21L95.70 683.49L96.21 684.77L96.59 686.05L96.82 687.32L96.90 688.60L96.86 689.64L96.72 690.68L96.50 691.72L96.20 692.76L95.82 693.80L95.37 694.85L94.85 695.89L94.28 696.93L93.66 697.97L93.00 699.01L92.31 700.05L91.62 701.09L90.91 702.13L90.22 703.17L89.55 704.21L88.91 705.25L88.32 706.30L87.80 707.34L87.34 708.38L86.97 709.42L86.72 710.46L86.60 711.50L86.60 711.50L86.48 710.46L86.23 709.42L85.86 708.38L85.40 707.34L84.88 706.30L84.29 705.25L83.65 704.21L82.98 703.17L82.29 702.13L81.58 701.09L80.89 700.05L80.20 699.01L79.54 697.97L78.92 696.93L78.35 695.89L77.83 694.85L77.38 693.80L77.00 692.76L76.70 691.72L76.48 690.68L76.34 689.64L76.30 688.60L76.38 687.32L76.61 686.05L76.99 684.77L77.50 683.49L78.13 682.21L78.85 680.94L79.64 679.66L80.47 678.38L81.32 677.10L82.15 675.83L82.96 674.55L83.71 673.27L84.38 672.00L84.97 670.72L85.47 669.44L85.86 668.16L86.16 666.89L86.37 665.61L86.50 664.33L86.57 663.05L86.60 661.78L86.60 660.50Z" fill="#3a66cf" stroke="#111" stroke-width="0.65" stroke-linejoin="round"/><path d="M86.6 656.4V719.3M84.6 664.9h4M84.6 711.4h4" stroke="#000" stroke-width="0.95"/><rect x="84.3" y="682.2" width="4.6" height="13.7" fill="#000"/><circle cx="86.6" cy="689.0" r="1.65" fill="#fff"/><path d="M147.10 661.50L147.25 662.55L147.56 663.59L147.98 664.64L148.48 665.68L149.05 666.73L149.67 667.77L150.34 668.82L151.03 669.86L151.73 670.91L152.43 671.95L153.13 673.00L153.81 674.05L154.46 675.09L155.06 676.14L155.62 677.18L156.12 678.23L156.56 679.27L156.93 680.32L157.22 681.36L157.43 682.41L157.56 683.45L157.60 684.50L157.56 685.64L157.43 686.77L157.22 687.91L156.93 689.05L156.56 690.18L156.12 691.32L155.62 692.45L155.06 693.59L154.46 694.73L153.81 695.86L153.13 697.00L152.43 698.14L151.73 699.27L151.03 700.41L150.34 701.55L149.67 702.68L149.05 703.82L148.48 704.95L147.98 706.09L147.56 707.23L147.25 708.36L147.10 709.50L147.10 709.50L146.95 708.36L146.64 707.23L146.22 706.09L145.72 704.95L145.15 703.82L144.53 702.68L143.86 701.55L143.17 700.41L142.47 699.27L141.77 698.14L141.07 697.00L140.39 695.86L139.74 694.73L139.14 693.59L138.58 692.45L138.08 691.32L137.64 690.18L137.27 689.05L136.98 687.91L136.77 686.77L136.64 685.64L136.60 684.50L136.64 683.45L136.77 682.41L136.98 681.36L137.27 680.32L137.64 679.27L138.08 678.23L138.58 677.18L139.14 676.14L139.74 675.09L140.39 674.05L141.07 673.00L141.77 671.95L142.47 670.91L143.17 669.86L143.86 668.82L144.53 667.77L145.15 666.73L145.72 665.68L146.22 664.64L146.64 663.59L146.95 662.55L147.10 661.50Z" fill="#dc4118" stroke="#111" stroke-width="0.65" stroke-linejoin="round"/><path d="M147.1 651.2V709.9M145.1 662.0h4M145.1 709.9h4" stroke="#000" stroke-width="0.95"/><rect x="144.8" y="678.7" width="4.6" height="13.1" fill="#000"/><circle cx="147.1" cy="685.3" r="1.65" fill="#fff"/><path d="M207.40 630.50L207.74 632.04L208.22 633.58L208.79 635.12L209.40 636.66L210.05 638.20L210.72 639.75L211.40 641.29L212.08 642.83L212.75 644.37L213.40 645.91L214.03 647.45L214.63 648.99L215.19 650.53L215.71 652.07L216.18 653.61L216.60 655.15L216.96 656.70L217.26 658.24L217.49 659.78L217.66 661.32L217.77 662.86L217.80 664.40L217.77 665.77L217.66 667.14L217.49 668.50L217.26 669.87L216.96 671.24L216.60 672.61L216.18 673.98L215.71 675.35L215.19 676.71L214.63 678.08L214.03 679.45L213.40 680.82L212.75 682.19L212.08 683.55L211.40 684.92L210.72 686.29L210.05 687.66L209.40 689.03L208.79 690.40L208.22 691.76L207.74 693.13L207.40 694.50L207.40 694.50L207.06 693.13L206.58 691.76L206.01 690.40L205.40 689.03L204.75 687.66L204.08 686.29L203.40 684.92L202.72 683.55L202.05 682.19L201.40 680.82L200.77 679.45L200.17 678.08L199.61 676.71L199.09 675.35L198.62 673.98L198.20 672.61L197.84 671.24L197.54 669.87L197.31 668.50L197.14 667.14L197.03 665.77L197.00 664.40L197.03 662.86L197.14 661.32L197.31 659.78L197.54 658.24L197.84 656.70L198.20 655.15L198.62 653.61L199.09 652.07L199.61 650.53L200.17 648.99L200.77 647.45L201.40 645.91L202.05 644.37L202.72 642.83L203.40 641.29L204.08 639.75L204.75 638.20L205.40 636.66L206.01 635.12L206.58 633.58L207.06 632.04L207.40 630.50Z" fill="#ff9900" stroke="#111" stroke-width="0.65" stroke-linejoin="round"/><path d="M207.4 625.3V707.7M205.4 633.9h4M205.4 693.8h4" stroke="#000" stroke-width="0.95"/><rect x="205.1" y="656.6" width="4.6" height="18.8" fill="#000"/><circle cx="207.4" cy="664.8" r="1.65" fill="#fff"/><path d="M267.70 642.50L267.70 643.81L267.70 645.13L267.72 646.44L267.76 647.75L267.85 649.07L268.00 650.38L268.24 651.70L268.57 653.01L269.02 654.32L269.58 655.64L270.25 656.95L271.03 658.26L271.89 659.58L272.81 660.89L273.75 662.20L274.68 663.52L275.56 664.83L276.35 666.15L277.00 667.46L277.49 668.77L277.80 670.09L277.90 671.40L277.87 672.44L277.80 673.48L277.67 674.52L277.49 675.56L277.26 676.60L276.98 677.65L276.65 678.69L276.28 679.73L275.87 680.77L275.41 681.81L274.91 682.85L274.38 683.89L273.81 684.93L273.21 685.97L272.59 687.01L271.94 688.05L271.26 689.10L270.57 690.14L269.87 691.18L269.15 692.22L268.43 693.26L267.70 694.30L267.70 694.30L266.97 693.26L266.25 692.22L265.53 691.18L264.83 690.14L264.14 689.10L263.46 688.05L262.81 687.01L262.19 685.97L261.59 684.93L261.02 683.89L260.49 682.85L259.99 681.81L259.53 680.77L259.12 679.73L258.75 678.69L258.42 677.65L258.14 676.60L257.91 675.56L257.73 674.52L257.60 673.48L257.53 672.44L257.50 671.40L257.60 670.09L257.91 668.77L258.40 667.46L259.05 666.15L259.84 664.83L260.72 663.52L261.65 662.20L262.59 660.89L263.51 659.58L264.37 658.26L265.15 656.95L265.82 655.64L266.38 654.32L266.83 653.01L267.16 651.70L267.40 650.38L267.55 649.07L267.64 647.75L267.68 646.44L267.70 645.13L267.70 643.81L267.70 642.50Z" fill="#16961a" stroke="#111" stroke-width="0.65" stroke-linejoin="round"/><path d="M267.7 630.8V693.8M265.7 645.8h4M265.7 693.8h4" stroke="#000" stroke-width="0.95"/><rect x="265.4" y="663.5" width="4.6" height="14.4" fill="#000"/><circle cx="267.7" cy="671.3" r="1.65" fill="#fff"/><path d="M327.90 664.00L327.91 665.03L327.98 666.06L328.12 667.10L328.34 668.13L328.66 669.16L329.07 670.19L329.57 671.22L330.16 672.25L330.82 673.29L331.54 674.32L332.31 675.35L333.11 676.38L333.92 677.41L334.72 678.45L335.48 679.48L336.19 680.51L336.82 681.54L337.37 682.57L337.81 683.60L338.13 684.64L338.33 685.67L338.40 686.70L338.37 687.80L338.26 688.91L338.09 690.01L337.85 691.12L337.55 692.22L337.18 693.33L336.76 694.43L336.29 695.54L335.76 696.64L335.20 697.75L334.59 698.85L333.96 699.95L333.30 701.06L332.62 702.16L331.94 703.27L331.25 704.37L330.58 705.48L329.92 706.58L329.30 707.69L328.73 708.79L328.24 709.90L327.90 711.00L327.90 711.00L327.56 709.90L327.07 708.79L326.50 707.69L325.88 706.58L325.22 705.48L324.55 704.37L323.86 703.27L323.18 702.16L322.50 701.06L321.84 699.95L321.21 698.85L320.60 697.75L320.04 696.64L319.51 695.54L319.04 694.43L318.62 693.33L318.25 692.22L317.95 691.12L317.71 690.01L317.54 688.91L317.43 687.80L317.40 686.70L317.47 685.67L317.67 684.64L317.99 683.60L318.43 682.57L318.98 681.54L319.61 680.51L320.32 679.48L321.08 678.45L321.88 677.41L322.69 676.38L323.49 675.35L324.26 674.32L324.98 673.29L325.64 672.25L326.23 671.22L326.73 670.19L327.14 669.16L327.46 668.13L327.68 667.10L327.82 666.06L327.89 665.03L327.90 664.00Z" fill="#990099" stroke="#111" stroke-width="0.65" stroke-linejoin="round"/><path d="M327.9 654.1V711.2M325.9 665.2h4M325.9 711.2h4" stroke="#000" stroke-width="0.95"/><rect x="325.6" y="682.3" width="4.6" height="12.3" fill="#000"/><circle cx="327.9" cy="688.0" r="1.65" fill="#fff"/><path d="M388.30 656.50L388.30 657.84L388.33 659.18L388.40 660.52L388.53 661.86L388.75 663.20L389.05 664.55L389.46 665.89L389.96 667.23L390.56 668.57L391.25 669.91L392.01 671.25L392.83 672.59L393.69 673.93L394.55 675.27L395.40 676.61L396.20 677.95L396.94 679.30L397.58 680.64L398.10 681.98L398.48 683.32L398.72 684.66L398.80 686.00L398.77 687.02L398.69 688.05L398.56 689.07L398.37 690.09L398.14 691.11L397.85 692.14L397.52 693.16L397.13 694.18L396.71 695.20L396.24 696.23L395.72 697.25L395.18 698.27L394.59 699.30L393.98 700.32L393.33 701.34L392.66 702.36L391.97 703.39L391.26 704.41L390.53 705.43L389.79 706.45L389.05 707.48L388.30 708.50L388.30 708.50L387.55 707.48L386.81 706.45L386.07 705.43L385.34 704.41L384.63 703.39L383.94 702.36L383.27 701.34L382.62 700.32L382.01 699.30L381.42 698.27L380.88 697.25L380.36 696.23L379.89 695.20L379.47 694.18L379.08 693.16L378.75 692.14L378.46 691.11L378.23 690.09L378.04 689.07L377.91 688.05L377.83 687.02L377.80 686.00L377.88 684.66L378.12 683.32L378.50 681.98L379.02 680.64L379.66 679.30L380.40 677.95L381.20 676.61L382.05 675.27L382.91 673.93L383.77 672.59L384.59 671.25L385.35 669.91L386.04 668.57L386.64 667.23L387.14 665.89L387.55 664.55L387.85 663.20L388.07 661.86L388.20 660.52L388.27 659.18L388.30 657.84L388.30 656.50Z" fill="#1a9acb" stroke="#111" stroke-width="0.65" stroke-linejoin="round"/><path d="M388.3 650.7V708.5M386.3 657.3h4M386.3 708.5h4" stroke="#000" stroke-width="0.95"/><rect x="386.0" y="679.6" width="4.6" height="15.0" fill="#000"/><circle cx="388.3" cy="687.0" r="1.65" fill="#fff"/><path d="M448.40 654.50L448.55 655.75L448.85 657.00L449.26 658.25L449.74 659.50L450.30 660.75L450.90 662.00L451.54 663.25L452.21 664.50L452.90 665.75L453.58 667.00L454.26 668.25L454.92 669.50L455.55 670.75L456.14 672.00L456.68 673.25L457.17 674.50L457.59 675.75L457.95 677.00L458.23 678.25L458.43 679.50L458.56 680.75L458.60 682.00L458.56 683.17L458.43 684.34L458.23 685.50L457.95 686.67L457.59 687.84L457.17 689.01L456.68 690.18L456.14 691.35L455.55 692.51L454.92 693.68L454.26 694.85L453.58 696.02L452.90 697.19L452.21 698.35L451.54 699.52L450.90 700.69L450.30 701.86L449.74 703.03L449.26 704.20L448.85 705.36L448.55 706.53L448.40 707.70L448.40 707.70L448.25 706.53L447.95 705.36L447.54 704.20L447.06 703.03L446.50 701.86L445.90 700.69L445.26 699.52L444.59 698.35L443.90 697.19L443.22 696.02L442.54 694.85L441.88 693.68L441.25 692.51L440.66 691.35L440.12 690.18L439.63 689.01L439.21 687.84L438.85 686.67L438.57 685.50L438.37 684.34L438.24 683.17L438.20 682.00L438.24 680.75L438.37 679.50L438.57 678.25L438.85 677.00L439.21 675.75L439.63 674.50L440.12 673.25L440.66 672.00L441.25 670.75L441.88 669.50L442.54 668.25L443.22 667.00L443.90 665.75L444.59 664.50L445.26 663.25L445.90 662.00L446.50 660.75L447.06 659.50L447.54 658.25L447.95 657.00L448.25 655.75L448.40 654.50Z" fill="#df4f88" stroke="#111" stroke-width="0.65" stroke-linejoin="round"/><path d="M448.4 644.2V707.7M446.4 656.0h4M446.4 707.7h4" stroke="#000" stroke-width="0.95"/><rect x="446.1" y="674.1" width="4.6" height="14.2" fill="#000"/><circle cx="448.4" cy="681.5" r="1.65" fill="#fff"/><path d="M508.60 649.50L508.94 650.42L509.42 651.35L509.99 652.27L510.60 653.19L511.25 654.11L511.92 655.04L512.60 655.96L513.28 656.88L513.95 657.80L514.60 658.73L515.23 659.65L515.83 660.57L516.39 661.50L516.91 662.42L517.38 663.34L517.80 664.26L518.16 665.19L518.46 666.11L518.69 667.03L518.86 667.95L518.97 668.88L519.00 669.80L519.00 675.80L518.97 676.87L518.86 677.95L518.69 679.02L518.46 680.09L518.16 681.16L517.80 682.24L517.38 683.31L516.91 684.38L516.39 685.45L515.83 686.53L515.23 687.60L514.60 688.67L513.95 689.75L513.28 690.82L512.60 691.89L511.92 692.96L511.25 694.04L510.60 695.11L509.99 696.18L509.42 697.25L508.94 698.33L508.60 699.40L508.60 699.40L508.26 698.33L507.78 697.25L507.21 696.18L506.60 695.11L505.95 694.04L505.28 692.96L504.60 691.89L503.92 690.82L503.25 689.75L502.60 688.67L501.97 687.60L501.37 686.53L500.81 685.45L500.29 684.38L499.82 683.31L499.40 682.24L499.04 681.16L498.74 680.09L498.51 679.02L498.34 677.95L498.23 676.87L498.20 675.80L498.20 669.80L498.23 668.88L498.34 667.95L498.51 667.03L498.74 666.11L499.04 665.19L499.40 664.26L499.82 663.34L500.29 662.42L500.81 661.50L501.37 660.57L501.97 659.65L502.60 658.73L503.25 657.80L503.92 656.88L504.60 655.96L505.28 655.04L505.95 654.11L506.60 653.19L507.21 652.27L507.78 651.35L508.26 650.42L508.60 649.50Z" fill="#66aa00" stroke="#111" stroke-width="0.65" stroke-linejoin="round"/><path d="M508.6 642.5V699.0M506.6 649.2h4M506.6 699.0h4" stroke="#000" stroke-width="0.95"/><rect x="506.3" y="668.0" width="4.6" height="14.6" fill="#000"/><circle cx="508.6" cy="675.3" r="1.65" fill="#fff"/><path d="M569.00 633.50L569.01 634.75L569.08 636.00L569.22 637.25L569.44 638.50L569.75 639.75L570.16 641.00L570.65 642.25L571.24 643.50L571.89 644.75L572.61 646.00L573.37 647.25L574.16 648.50L574.96 649.75L575.75 651.00L576.51 652.25L577.21 653.50L577.84 654.75L578.38 656.00L578.82 657.25L579.14 658.50L579.33 659.75L579.40 661.00L579.36 662.18L579.24 663.36L579.05 664.55L578.77 665.73L578.43 666.91L578.02 668.09L577.55 669.27L577.02 670.45L576.45 671.64L575.83 672.82L575.18 674.00L574.51 675.18L573.82 676.36L573.13 677.55L572.45 678.73L571.78 679.91L571.15 681.09L570.56 682.27L570.02 683.45L569.56 684.64L569.20 685.82L569.00 687.00L569.00 687.00L568.80 685.82L568.44 684.64L567.98 683.45L567.44 682.27L566.85 681.09L566.22 679.91L565.55 678.73L564.87 677.55L564.18 676.36L563.49 675.18L562.82 674.00L562.17 672.82L561.55 671.64L560.98 670.45L560.45 669.27L559.98 668.09L559.57 666.91L559.23 665.73L558.95 664.55L558.76 663.36L558.64 662.18L558.60 661.00L558.67 659.75L558.86 658.50L559.18 657.25L559.62 656.00L560.16 654.75L560.79 653.50L561.49 652.25L562.25 651.00L563.04 649.75L563.84 648.50L564.63 647.25L565.39 646.00L566.11 644.75L566.76 643.50L567.35 642.25L567.84 641.00L568.25 639.75L568.56 638.50L568.78 637.25L568.92 636.00L568.99 634.75L569.00 633.50Z" fill="#bb3333" stroke="#111" stroke-width="0.65" stroke-linejoin="round"/><path d="M569.0 626.1V686.6M567.0 641.9h4M567.0 686.6h4" stroke="#000" stroke-width="0.95"/><rect x="566.7" y="656.5" width="4.6" height="14.1" fill="#000"/><circle cx="569.0" cy="662.0" r="1.65" fill="#fff"/><path d="M629.30 674.00L629.35 674.95L629.51 675.91L629.78 676.86L630.14 677.82L630.59 678.77L631.13 679.73L631.73 680.68L632.40 681.64L633.11 682.59L633.85 683.55L634.60 684.50L635.35 685.45L636.09 686.41L636.80 687.36L637.47 688.32L638.07 689.27L638.61 690.23L639.06 691.18L639.42 692.14L639.69 693.09L639.85 694.05L639.90 695.00L639.76 695.95L639.39 696.91L638.89 697.86L638.37 698.82L637.91 699.77L637.62 700.73L637.52 701.68L637.09 702.64L636.37 703.59L635.57 704.55L634.91 705.50L634.60 706.45L634.48 707.41L634.17 708.36L633.86 709.32L633.75 710.27L633.59 711.23L633.33 712.18L633.13 713.14L632.55 714.09L630.53 715.05L629.30 716.00L629.30 716.00L628.07 715.05L626.05 714.09L625.47 713.14L625.27 712.18L625.01 711.23L624.85 710.27L624.74 709.32L624.43 708.36L624.12 707.41L624.00 706.45L623.69 705.50L623.03 704.55L622.23 703.59L621.51 702.64L621.08 701.68L620.98 700.73L620.69 699.77L620.23 698.82L619.71 697.86L619.21 696.91L618.84 695.95L618.70 695.00L618.75 694.05L618.91 693.09L619.18 692.14L619.54 691.18L619.99 690.23L620.53 689.27L621.13 688.32L621.80 687.36L622.51 686.41L623.25 685.45L624.00 684.50L624.75 683.55L625.49 682.59L626.20 681.64L626.87 680.68L627.47 679.73L628.01 678.77L628.46 677.82L628.82 676.86L629.09 675.91L629.25 674.95L629.30 674.00Z" fill="#336699" stroke="#111" stroke-width="0.65" stroke-linejoin="round"/><path d="M629.3 669.4V716.0M627.3 677.0h4M627.3 716.0h4" stroke="#000" stroke-width="0.95"/><rect x="627.0" y="690.0" width="4.6" height="13.5" fill="#000"/><circle cx="629.3" cy="696.4" r="1.65" fill="#fff"/><g font-size="7.6" fill="#444" text-anchor="end"><text x="52.2" y="733.6">0</text><text x="52.2" y="713.9">0.1</text><text x="52.2" y="694.2">0.2</text><text x="52.2" y="674.6">0.3</text><text x="52.2" y="654.9">0.4</text><text x="52.2" y="635.2">0.5</text><text x="52.2" y="615.5">0.6</text></g><text transform="translate(36.2 670.5) rotate(-90)" font-size="12.8" text-anchor="middle">AUCell Scores</text><text x="342.7" y="604.2" font-size="16" text-anchor="middle" textLength="123.4">EndMT markers</text><g font-size="14" text-anchor="middle"><text transform="translate(88.8 748.4) scale(1.3 1)">0</text><text transform="translate(146.0 748.4) scale(1.3 1)">1</text><text transform="translate(206.0 748.4) scale(1.3 1)">2</text><text transform="translate(267.0 748.4) scale(1.3 1)">3</text><text transform="translate(327.0 748.4) scale(1.3 1)">4</text><text transform="translate(387.8 748.4) scale(1.3 1)">5</text><text transform="translate(451.0 748.4) scale(1.3 1)">6</text><text transform="translate(508.7 748.4) scale(1.3 1)">7</text><text transform="translate(569.0 748.4) scale(1.3 1)">8</text><text transform="translate(629.4 748.4) scale(1.3 1)">9</text></g><rect x="55" y="790" width="606.8" height="121" fill="none" stroke="#000" stroke-width="1.3"/><rect x="175.7" y="799" width="124.1" height="100.7" fill="none" stroke="#1a73c8" stroke-width="2"/><rect x="482.8" y="796.1" width="114.2" height="103.6" fill="none" stroke="#1a73c8" stroke-width="2"/><path d="M85.40 833.00L85.59 833.98L85.95 834.95L86.40 835.93L86.93 836.91L87.51 837.89L88.13 838.86L88.78 839.84L89.45 840.82L90.13 841.80L90.81 842.77L91.46 843.75L92.10 844.73L92.71 845.70L93.27 846.68L93.79 847.66L94.25 848.64L94.65 849.61L94.99 850.59L95.25 851.57L95.44 852.55L95.56 853.52L95.60 854.50L95.56 855.98L95.42 857.45L95.21 858.93L94.91 860.41L94.53 861.89L94.08 863.36L93.57 864.84L93.00 866.32L92.39 867.80L91.74 869.27L91.06 870.75L90.37 872.23L89.67 873.70L88.99 875.18L88.32 876.66L87.69 878.14L87.11 879.61L86.58 881.09L86.13 882.57L85.77 884.05L85.51 885.52L85.40 887.00L85.40 887.00L85.29 885.52L85.03 884.05L84.67 882.57L84.22 881.09L83.69 879.61L83.11 878.14L82.48 876.66L81.81 875.18L81.13 873.70L80.43 872.23L79.74 870.75L79.06 869.27L78.41 867.80L77.80 866.32L77.23 864.84L76.72 863.36L76.27 861.89L75.89 860.41L75.59 858.93L75.38 857.45L75.24 855.98L75.20 854.50L75.24 853.52L75.36 852.55L75.55 851.57L75.81 850.59L76.15 849.61L76.55 848.64L77.01 847.66L77.53 846.68L78.09 845.70L78.70 844.73L79.34 843.75L79.99 842.77L80.67 841.80L81.35 840.82L82.02 839.84L82.67 838.86L83.29 837.89L83.87 836.91L84.40 835.93L84.85 834.95L85.21 833.98L85.40 833.00Z" fill="#3a66cf" stroke="#111" stroke-width="0.65" stroke-linejoin="round"/><path d="M85.4 824.5V889.0M83.4 829.8h4M83.4 885.5h4" stroke="#000" stroke-width="0.95"/><rect x="83.1" y="850.2" width="4.6" height="14.2" fill="#000"/><circle cx="85.4" cy="856.8" r="1.65" fill="#fff"/><path d="M146.20 832.50L146.54 833.30L147.03 834.09L147.60 834.89L148.22 835.68L148.88 836.48L149.55 837.27L150.24 838.07L150.92 838.86L151.60 839.66L152.26 840.45L152.89 841.25L153.50 842.05L154.06 842.84L154.59 843.64L155.06 844.43L155.48 845.23L155.85 846.02L156.15 846.82L156.39 847.61L156.56 848.41L156.67 849.20L156.70 850.00L156.65 851.18L156.49 852.36L156.23 853.55L155.87 854.73L155.42 855.91L154.89 857.09L154.29 858.27L153.63 859.45L152.93 860.64L152.20 861.82L151.45 863.00L150.70 864.18L149.97 865.36L149.27 866.55L148.61 867.73L148.01 868.91L147.48 870.09L147.03 871.27L146.67 872.45L146.41 873.64L146.25 874.82L146.20 876.00L146.20 876.00L146.15 874.82L145.99 873.64L145.73 872.45L145.37 871.27L144.92 870.09L144.39 868.91L143.79 867.73L143.13 866.55L142.43 865.36L141.70 864.18L140.95 863.00L140.20 861.82L139.47 860.64L138.77 859.45L138.11 858.27L137.51 857.09L136.98 855.91L136.53 854.73L136.17 853.55L135.91 852.36L135.75 851.18L135.70 850.00L135.73 849.20L135.84 848.41L136.01 847.61L136.25 846.82L136.55 846.02L136.92 845.23L137.34 844.43L137.81 843.64L138.34 842.84L138.90 842.05L139.51 841.25L140.14 840.45L140.80 839.66L141.48 838.86L142.16 838.07L142.85 837.27L143.52 836.48L144.18 835.68L144.80 834.89L145.37 834.09L145.86 833.30L146.20 832.50Z" fill="#dc4118" stroke="#111" stroke-width="0.65" stroke-linejoin="round"/><path d="M146.2 826.1V885.7M144.2 834.0h4M144.2 873.4h4" stroke="#000" stroke-width="0.95"/><rect x="143.9" y="846.6" width="4.6" height="11.6" fill="#000"/><circle cx="146.2" cy="851.2" r="1.65" fill="#fff"/><path d="M206.90 829.50L207.24 830.38L207.73 831.25L208.30 832.13L208.92 833.01L209.58 833.89L210.25 834.76L210.94 835.64L211.62 836.52L212.30 837.40L212.96 838.27L213.59 839.15L214.20 840.03L214.76 840.90L215.29 841.78L215.76 842.66L216.18 843.54L216.55 844.41L216.85 845.29L217.09 846.17L217.26 847.05L217.37 847.92L217.40 848.80L217.35 849.95L217.21 851.09L216.97 852.24L216.65 853.38L216.24 854.53L215.75 855.67L215.20 856.82L214.59 857.96L213.94 859.11L213.24 860.25L212.53 861.40L211.80 862.55L211.08 863.69L210.37 864.84L209.69 865.98L209.06 867.13L208.48 868.27L207.97 869.42L207.55 870.56L207.21 871.71L206.99 872.85L206.90 874.00L206.90 874.00L206.81 872.85L206.59 871.71L206.25 870.56L205.83 869.42L205.32 868.27L204.74 867.13L204.11 865.98L203.43 864.84L202.72 863.69L202.00 862.55L201.27 861.40L200.56 860.25L199.86 859.11L199.21 857.96L198.60 856.82L198.05 855.67L197.56 854.53L197.15 853.38L196.83 852.24L196.59 851.09L196.45 849.95L196.40 848.80L196.43 847.92L196.54 847.05L196.71 846.17L196.95 845.29L197.25 844.41L197.62 843.54L198.04 842.66L198.51 841.78L199.04 840.90L199.60 840.03L200.21 839.15L200.84 838.27L201.50 837.40L202.18 836.52L202.86 835.64L203.55 834.76L204.22 833.89L204.88 833.01L205.50 832.13L206.07 831.25L206.56 830.38L206.90 829.50Z" fill="#ff9900" stroke="#111" stroke-width="0.65" stroke-linejoin="round"/><path d="M206.9 825.3V877.8M204.9 830.2h4M204.9 872.0h4" stroke="#000" stroke-width="0.95"/><rect x="204.6" y="842.8" width="4.6" height="11.7" fill="#000"/><circle cx="206.9" cy="848.6" r="1.65" fill="#fff"/><path d="M267.70 826.50L267.89 827.39L268.25 828.27L268.70 829.16L269.23 830.05L269.81 830.93L270.43 831.82L271.08 832.70L271.75 833.59L272.43 834.48L273.11 835.36L273.76 836.25L274.40 837.14L275.01 838.02L275.57 838.91L276.09 839.80L276.55 840.68L276.95 841.57L277.29 842.45L277.55 843.34L277.74 844.23L277.86 845.11L277.90 846.00L277.84 847.32L277.67 848.64L277.39 849.95L277.01 851.27L276.54 852.59L275.98 853.91L275.35 855.23L274.67 856.55L273.95 857.86L273.21 859.18L272.46 860.50L271.72 861.82L271.01 863.14L270.34 864.45L269.72 865.77L269.18 867.09L268.71 868.41L268.33 869.73L268.04 871.05L267.84 872.36L267.73 873.68L267.70 875.00L267.70 875.00L267.67 873.68L267.56 872.36L267.36 871.05L267.07 869.73L266.69 868.41L266.22 867.09L265.68 865.77L265.06 864.45L264.39 863.14L263.68 861.82L262.94 860.50L262.19 859.18L261.45 857.86L260.73 856.55L260.05 855.23L259.42 853.91L258.86 852.59L258.39 851.27L258.01 849.95L257.73 848.64L257.56 847.32L257.50 846.00L257.54 845.11L257.66 844.23L257.85 843.34L258.11 842.45L258.45 841.57L258.85 840.68L259.31 839.80L259.83 838.91L260.39 838.02L261.00 837.14L261.64 836.25L262.29 835.36L262.97 834.48L263.65 833.59L264.32 832.70L264.97 831.82L265.59 830.93L266.17 830.05L266.70 829.16L267.15 828.27L267.51 827.39L267.70 826.50Z" fill="#16961a" stroke="#111" stroke-width="0.65" stroke-linejoin="round"/><path d="M267.7 821.8V888.6M265.7 827.3h4M265.7 869.0h4" stroke="#000" stroke-width="0.95"/><rect x="265.4" y="841.3" width="4.6" height="12.3" fill="#000"/><circle cx="267.7" cy="847.7" r="1.65" fill="#fff"/><path d="M328.10 832.50L329.80 833.03L330.86 833.56L331.75 834.10L332.55 834.63L333.27 835.16L333.94 835.69L334.55 836.22L335.12 836.75L335.65 837.29L336.13 837.82L336.57 838.35L336.98 838.88L337.34 839.41L337.67 839.95L337.96 840.48L338.21 841.01L338.42 841.54L338.59 842.07L338.73 842.60L338.82 843.14L338.88 843.67L338.90 844.20L338.86 845.35L338.74 846.50L338.53 847.65L338.25 848.80L337.89 849.95L337.47 851.10L336.98 852.25L336.43 853.40L335.84 854.55L335.20 855.70L334.52 856.85L333.82 858.00L333.11 859.15L332.39 860.30L331.68 861.45L330.99 862.60L330.33 863.75L329.72 864.90L329.16 866.05L328.68 867.20L328.31 868.35L328.10 869.50L328.10 869.50L327.89 868.35L327.52 867.20L327.04 866.05L326.48 864.90L325.87 863.75L325.21 862.60L324.52 861.45L323.81 860.30L323.09 859.15L322.38 858.00L321.68 856.85L321.00 855.70L320.36 854.55L319.77 853.40L319.22 852.25L318.73 851.10L318.31 849.95L317.95 848.80L317.67 847.65L317.46 846.50L317.34 845.35L317.30 844.20L317.32 843.67L317.38 843.14L317.47 842.60L317.61 842.07L317.78 841.54L317.99 841.01L318.24 840.48L318.53 839.95L318.86 839.41L319.22 838.88L319.63 838.35L320.07 837.82L320.55 837.29L321.08 836.75L321.65 836.22L322.26 835.69L322.93 835.16L323.65 834.63L324.45 834.10L325.34 833.56L326.40 833.03L328.10 832.50Z" fill="#990099" stroke="#111" stroke-width="0.65" stroke-linejoin="round"/><path d="M328.1 822.8V869.3M326.1 833.9h4M326.1 863.6h4" stroke="#000" stroke-width="0.95"/><rect x="325.8" y="841.0" width="4.6" height="9.4" fill="#000"/><circle cx="328.1" cy="845.7" r="1.65" fill="#fff"/><path d="M388.80 831.50L389.00 832.28L389.36 833.06L389.83 833.85L390.37 834.63L390.97 835.41L391.61 836.19L392.28 836.97L392.97 837.75L393.67 838.54L394.36 839.32L395.04 840.10L395.70 840.88L396.32 841.66L396.90 842.45L397.43 843.23L397.91 844.01L398.32 844.79L398.67 845.57L398.94 846.35L399.14 847.14L399.26 847.92L399.30 848.70L399.25 849.82L399.11 850.94L398.87 852.05L398.55 853.17L398.14 854.29L397.65 855.41L397.10 856.53L396.49 857.65L395.84 858.76L395.14 859.88L394.43 861.00L393.70 862.12L392.98 863.24L392.27 864.35L391.59 865.47L390.96 866.59L390.38 867.71L389.87 868.83L389.45 869.95L389.11 871.06L388.89 872.18L388.80 873.30L388.80 873.30L388.71 872.18L388.49 871.06L388.15 869.95L387.73 868.83L387.22 867.71L386.64 866.59L386.01 865.47L385.33 864.35L384.62 863.24L383.90 862.12L383.17 861.00L382.46 859.88L381.76 858.76L381.11 857.65L380.50 856.53L379.95 855.41L379.46 854.29L379.05 853.17L378.73 852.05L378.49 850.94L378.35 849.82L378.30 848.70L378.34 847.92L378.46 847.14L378.66 846.35L378.93 845.57L379.28 844.79L379.69 844.01L380.17 843.23L380.70 842.45L381.28 841.66L381.90 840.88L382.56 840.10L383.24 839.32L383.93 838.54L384.63 837.75L385.32 836.97L385.99 836.19L386.63 835.41L387.23 834.63L387.77 833.85L388.24 833.06L388.60 832.28L388.80 831.50Z" fill="#1a9acb" stroke="#111" stroke-width="0.65" stroke-linejoin="round"/><path d="M388.8 826.0V873.3M386.8 831.2h4M386.8 868.0h4" stroke="#000" stroke-width="0.95"/><rect x="386.5" y="844.4" width="4.6" height="10.5" fill="#000"/><circle cx="388.8" cy="849.6" r="1.65" fill="#fff"/><path d="M449.20 829.50L450.17 830.23L451.00 830.95L451.78 831.68L452.53 832.41L453.24 833.14L453.92 833.86L454.56 834.59L455.18 835.32L455.76 836.05L456.31 836.77L456.81 837.50L457.28 838.23L457.71 838.95L458.10 839.68L458.45 840.41L458.75 841.14L459.01 841.86L459.22 842.59L459.39 843.32L459.50 844.05L459.58 844.77L459.60 845.50L459.56 846.45L459.44 847.41L459.25 848.36L458.97 849.32L458.63 850.27L458.22 851.23L457.75 852.18L457.22 853.14L456.65 854.09L456.03 855.05L455.38 856.00L454.71 856.95L454.02 857.91L453.33 858.86L452.65 859.82L451.98 860.77L451.35 861.73L450.76 862.68L450.22 863.64L449.76 864.59L449.40 865.55L449.20 866.50L449.20 866.50L449.00 865.55L448.64 864.59L448.18 863.64L447.64 862.68L447.05 861.73L446.42 860.77L445.75 859.82L445.07 858.86L444.38 857.91L443.69 856.95L443.02 856.00L442.37 855.05L441.75 854.09L441.18 853.14L440.65 852.18L440.18 851.23L439.77 850.27L439.43 849.32L439.15 848.36L438.96 847.41L438.84 846.45L438.80 845.50L438.82 844.77L438.90 844.05L439.01 843.32L439.18 842.59L439.39 841.86L439.65 841.14L439.95 840.41L440.30 839.68L440.69 838.95L441.12 838.23L441.59 837.50L442.09 836.77L442.64 836.05L443.22 835.32L443.84 834.59L444.48 833.86L445.16 833.14L445.87 832.41L446.62 831.68L447.40 830.95L448.23 830.23L449.20 829.50Z" fill="#df4f88" stroke="#111" stroke-width="0.65" stroke-linejoin="round"/><path d="M449.2 828.6V881.2M447.2 833.9h4M447.2 868.8h4" stroke="#000" stroke-width="0.95"/><rect x="446.9" y="842.5" width="4.6" height="11.1" fill="#000"/><circle cx="449.2" cy="847.8" r="1.65" fill="#fff"/><path d="M510.00 832.50L510.44 833.26L511.01 834.03L511.64 834.79L512.30 835.55L512.97 836.32L513.66 837.08L514.34 837.85L515.02 838.61L515.68 839.37L516.32 840.14L516.93 840.90L517.50 841.66L518.04 842.43L518.53 843.19L518.98 843.95L519.37 844.72L519.71 845.48L519.99 846.25L520.21 847.01L520.37 847.77L520.47 848.54L520.50 849.30L520.46 850.30L520.34 851.29L520.14 852.29L519.87 853.28L519.52 854.28L519.11 855.27L518.63 856.27L518.10 857.26L517.52 858.26L516.90 859.25L516.24 860.25L515.56 861.25L514.87 862.24L514.17 863.24L513.48 864.23L512.81 865.23L512.17 866.22L511.57 867.22L511.03 868.21L510.56 869.21L510.20 870.20L510.00 871.20L510.00 871.20L509.80 870.20L509.44 869.21L508.97 868.21L508.43 867.22L507.83 866.22L507.19 865.23L506.52 864.23L505.83 863.24L505.13 862.24L504.44 861.25L503.76 860.25L503.10 859.25L502.48 858.26L501.90 857.26L501.37 856.27L500.89 855.27L500.48 854.28L500.13 853.28L499.86 852.29L499.66 851.29L499.54 850.30L499.50 849.30L499.53 848.54L499.63 847.77L499.79 847.01L500.01 846.25L500.29 845.48L500.63 844.72L501.02 843.95L501.47 843.19L501.96 842.43L502.50 841.66L503.07 840.90L503.68 840.14L504.32 839.37L504.98 838.61L505.66 837.85L506.34 837.08L507.03 836.32L507.70 835.55L508.36 834.79L508.99 834.03L509.56 833.26L510.00 832.50Z" fill="#66aa00" stroke="#111" stroke-width="0.65" stroke-linejoin="round"/><path d="M510.0 829.6V871.1M508.0 834.0h4M508.0 871.1h4" stroke="#000" stroke-width="0.95"/><rect x="507.7" y="844.8" width="4.6" height="11.7" fill="#000"/><circle cx="510.0" cy="850.7" r="1.65" fill="#fff"/><path d="M570.70 829.20L570.71 830.48L570.77 831.75L570.89 833.03L571.09 834.31L571.38 835.59L571.76 836.86L572.24 838.14L572.80 839.42L573.45 840.70L574.16 841.97L574.92 843.25L575.72 844.53L576.53 845.80L577.34 847.08L578.11 848.36L578.83 849.64L579.48 850.91L580.04 852.19L580.49 853.47L580.83 854.75L581.03 856.02L581.10 857.30L581.05 858.85L580.91 860.41L580.68 861.96L580.35 863.52L579.95 865.07L579.47 866.63L578.92 868.18L578.32 869.74L577.67 871.29L576.98 872.85L576.27 874.40L575.55 875.95L574.84 877.51L574.14 879.06L573.47 880.62L572.84 882.17L572.27 883.73L571.76 885.28L571.34 886.84L571.01 888.39L570.79 889.95L570.70 891.50L570.70 891.50L570.61 889.95L570.39 888.39L570.06 886.84L569.64 885.28L569.13 883.73L568.56 882.17L567.93 880.62L567.26 879.06L566.56 877.51L565.85 875.95L565.13 874.40L564.42 872.85L563.73 871.29L563.08 869.74L562.48 868.18L561.93 866.63L561.45 865.07L561.05 863.52L560.72 861.96L560.49 860.41L560.35 858.85L560.30 857.30L560.37 856.02L560.57 854.75L560.91 853.47L561.36 852.19L561.92 850.91L562.57 849.64L563.29 848.36L564.06 847.08L564.87 845.80L565.68 844.53L566.48 843.25L567.24 841.97L567.95 840.70L568.60 839.42L569.16 838.14L569.64 836.86L570.02 835.59L570.31 834.31L570.51 833.03L570.63 831.75L570.69 830.48L570.70 829.20Z" fill="#bb3333" stroke="#111" stroke-width="0.65" stroke-linejoin="round"/><path d="M570.7 828.2V892.4M568.7 837.0h4M568.7 882.2h4" stroke="#000" stroke-width="0.95"/><rect x="568.4" y="851.5" width="4.6" height="15.5" fill="#000"/><circle cx="570.7" cy="858.2" r="1.65" fill="#fff"/><path d="M631.20 816.00L631.29 817.09L631.52 818.18L631.85 819.27L632.28 820.36L632.80 821.45L633.38 822.55L634.02 823.64L634.70 824.73L635.42 825.82L636.15 826.91L636.88 828.00L637.60 829.09L638.30 830.18L638.97 831.27L639.58 832.36L640.14 833.45L640.63 834.55L641.04 835.64L641.37 836.73L641.61 837.82L641.75 838.91L641.80 840.00L641.80 858.00L641.77 859.03L641.69 860.06L641.56 861.10L641.37 862.13L641.13 863.16L640.84 864.19L640.50 865.22L640.12 866.25L639.69 867.29L639.21 868.32L638.70 869.35L638.14 870.38L637.55 871.41L636.93 872.45L636.28 873.48L635.60 874.51L634.90 875.54L634.19 876.57L633.45 877.60L632.71 878.64L631.96 879.67L631.20 880.70L631.20 880.70L630.44 879.67L629.69 878.64L628.95 877.60L628.21 876.57L627.50 875.54L626.80 874.51L626.12 873.48L625.47 872.45L624.85 871.41L624.26 870.38L623.70 869.35L623.19 868.32L622.71 867.29L622.28 866.25L621.90 865.22L621.56 864.19L621.27 863.16L621.03 862.13L620.84 861.10L620.71 860.06L620.63 859.03L620.60 858.00L620.60 840.00L620.65 838.91L620.79 837.82L621.03 836.73L621.36 835.64L621.77 834.55L622.26 833.45L622.82 832.36L623.43 831.27L624.10 830.18L624.80 829.09L625.52 828.00L626.25 826.91L626.98 825.82L627.70 824.73L628.38 823.64L629.02 822.55L629.60 821.45L630.12 820.36L630.55 819.27L630.88 818.18L631.11 817.09L631.20 816.00Z" fill="#336699" stroke="#111" stroke-width="0.65" stroke-linejoin="round"/><path d="M631.2 806.3V880.7M629.2 817.1h4M629.2 880.7h4" stroke="#000" stroke-width="0.95"/><rect x="628.9" y="839.0" width="4.6" height="22.8" fill="#000"/><circle cx="631.2" cy="850.0" r="1.65" fill="#fff"/><g font-size="7.6" fill="#444" text-anchor="end"><text x="51.4" y="913.5">0</text><text x="51.4" y="889.3">0.2</text><text x="51.4" y="865.1">0.4</text><text x="51.4" y="840.9">0.6</text><text x="51.4" y="816.7">0.8</text><text x="51.4" y="792.5">1</text></g><text transform="translate(35 850.7) rotate(-90)" font-size="12.8" text-anchor="middle">AUCell Scores</text><text x="338.9" y="784.1" font-size="16" text-anchor="middle" textLength="92.3">EC markers</text><g font-size="14" text-anchor="middle"><text transform="translate(85.6 931.2) scale(1.3 1)">0</text><text transform="translate(146.4 931.2) scale(1.3 1)">1</text><text transform="translate(207.1 931.2) scale(1.3 1)">2</text><text transform="translate(267.9 931.2) scale(1.3 1)">3</text><text transform="translate(328.3 931.2) scale(1.3 1)">4</text><text transform="translate(389.0 931.2) scale(1.3 1)">5</text><text transform="translate(449.4 931.2) scale(1.3 1)">6</text><text transform="translate(510.2 931.2) scale(1.3 1)">7</text><text transform="translate(570.9 931.2) scale(1.3 1)">8</text><text transform="translate(631.4 931.2) scale(1.3 1)">9</text></g></svg></body></html>
